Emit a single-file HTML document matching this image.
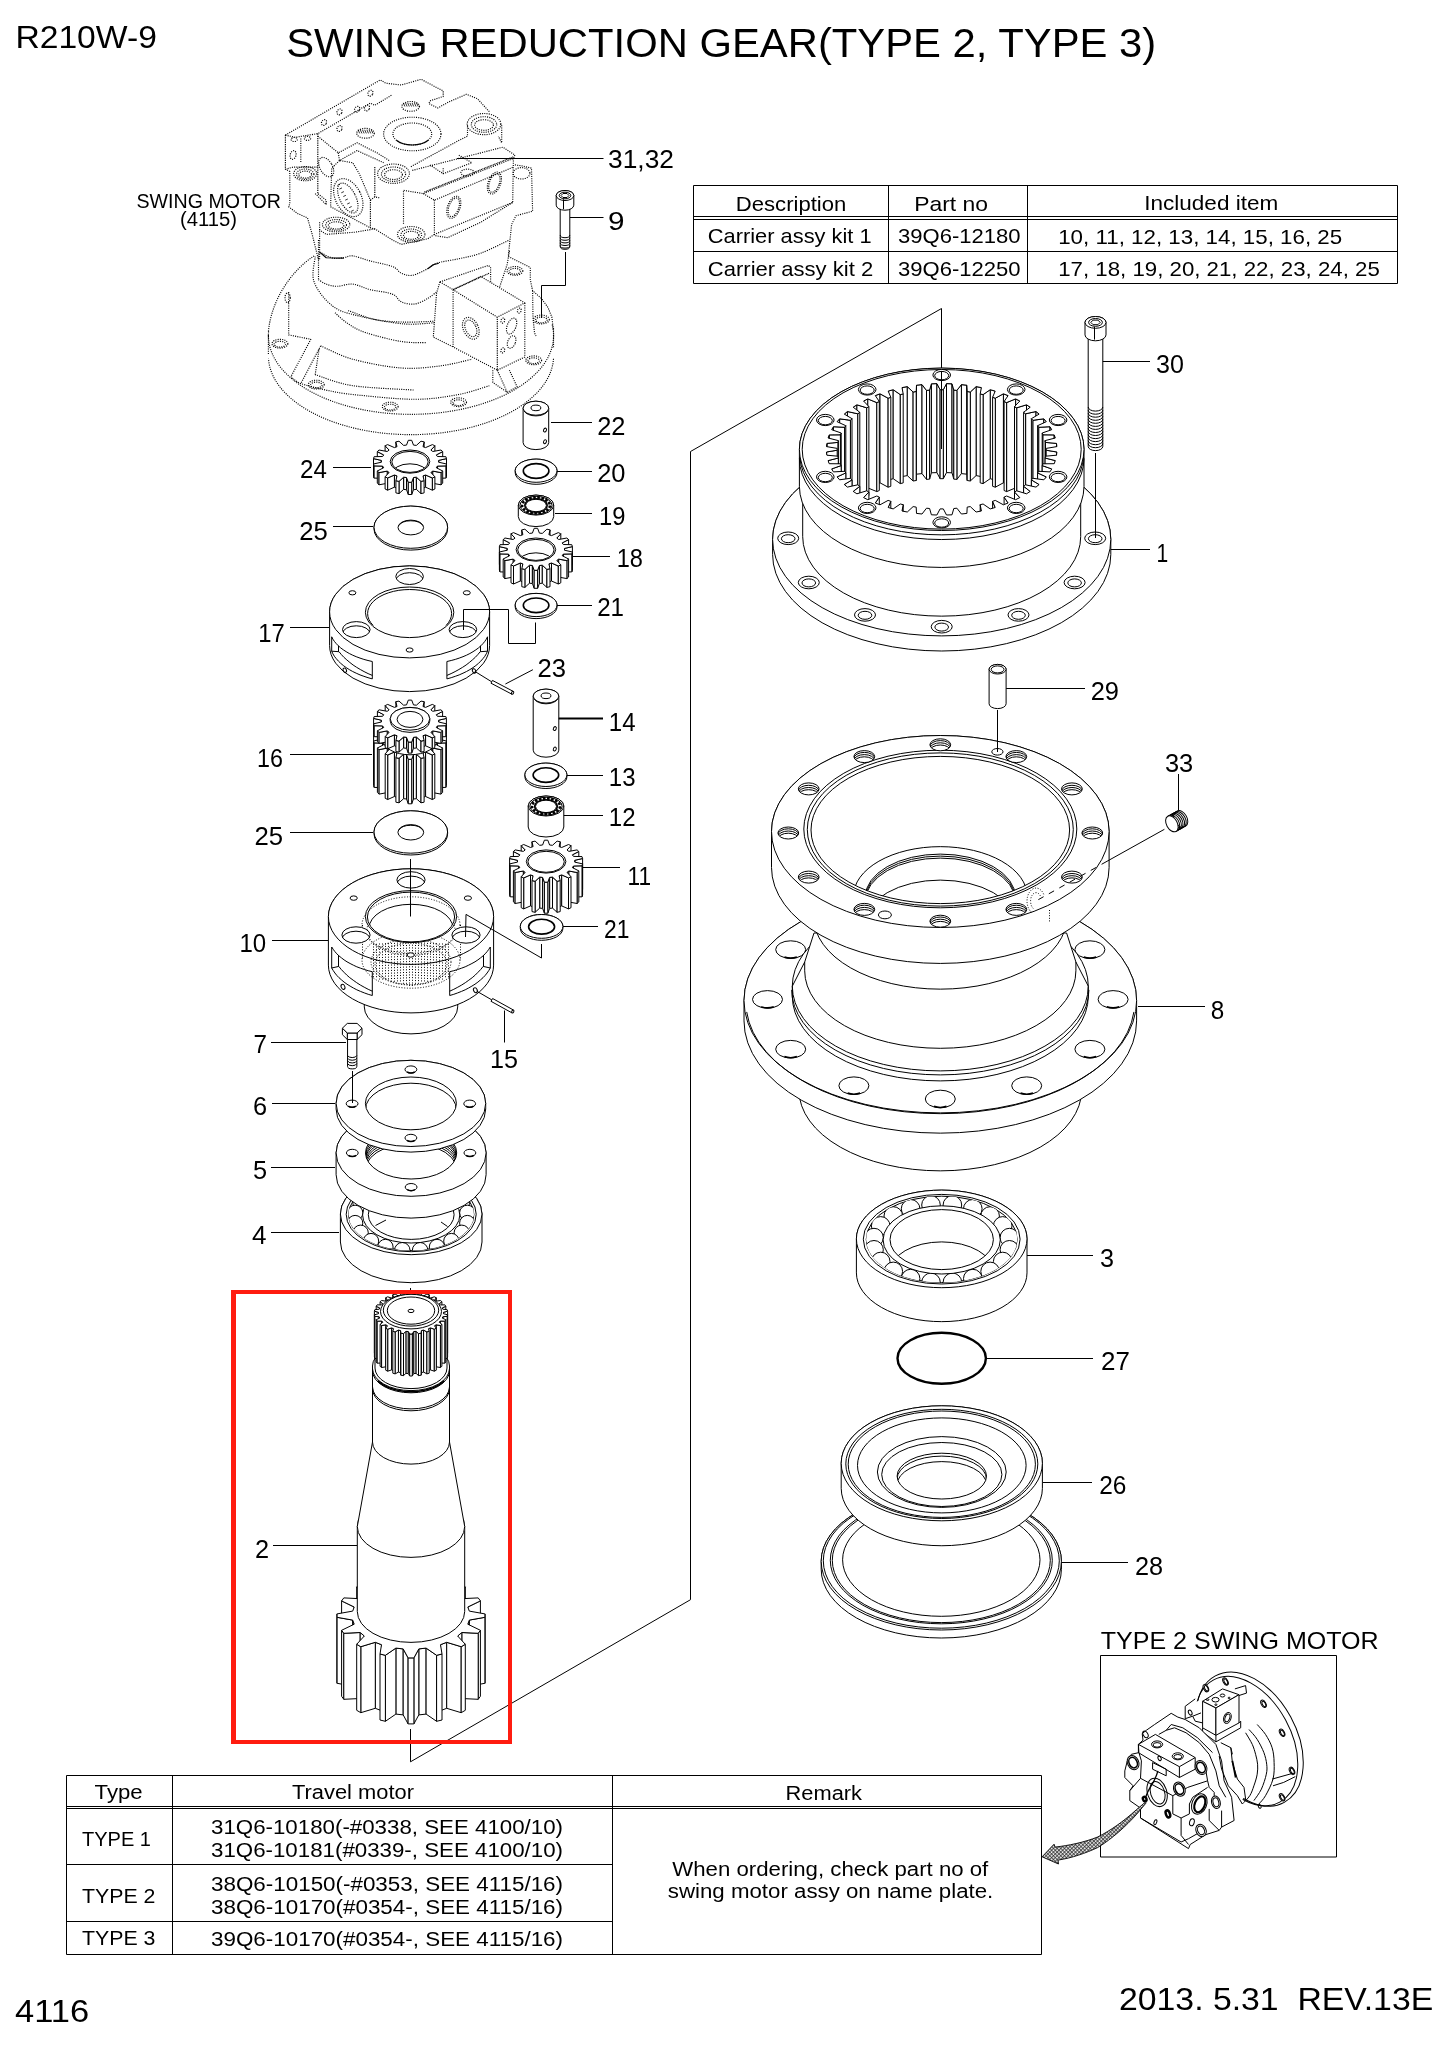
<!DOCTYPE html>
<html><head><meta charset="utf-8"><title>SWING REDUCTION GEAR</title>
<style>
html,body{margin:0;padding:0;background:#fff;}
body{width:1450px;height:2045px;overflow:hidden;font-family:"Liberation Sans",sans-serif;}
svg{display:block;}
svg text{font-family:"Liberation Sans",sans-serif;fill:#000;stroke:none;}
svg g.tx{filter:grayscale(1);}
</style></head><body>
<svg width="1450" height="2045" viewBox="0 0 1450 2045" fill="none" stroke="#000" stroke-width="1" stroke-linecap="butt" stroke-linejoin="round">
<rect x="0" y="0" width="1450" height="2045" fill="#fff" stroke="none"/>
<g id="toptable">
<path d="M693.5 185.5L1397.5 185.5L1397.5 283.5L693.5 283.5Z" stroke-width="1" />
<path d="M693.7 216.5L1397.7 216.5" stroke-width="1" />
<path d="M693.7 219.5L1397.7 219.5" stroke-width="1" />
<path d="M693.7 251.5L1397.7 251.5" stroke-width="1" />
<path d="M888.5 185.0L888.5 283.7" stroke-width="1" />
<path d="M1027.5 185.0L1027.5 283.7" stroke-width="1" />
</g>
<g id="bottable">
<path d="M66.5 1775.5L1041.5 1775.5L1041.5 1954.5L66.5 1954.5Z" stroke-width="1" />
<path d="M66.0 1806.5L1041.8 1806.5" stroke-width="1" />
<path d="M66.0 1808.5L1041.8 1808.5" stroke-width="1" />
<path d="M66.0 1864.5L612.5 1864.5" stroke-width="1" />
<path d="M66.0 1921.5L612.5 1921.5" stroke-width="1" />
<path d="M172.5 1775.2L172.5 1954.8" stroke-width="1" />
<path d="M612.5 1775.2L612.5 1954.8" stroke-width="1" />
</g>
<path d="M457.0 158.5L603.5 158.5" stroke-width="1" />
<path d="M570.0 217.5L603.5 217.5" stroke-width="1" />
<path d="M551.0 422.5L592.0 422.5" stroke-width="1" />
<path d="M557.0 471.5L592.0 471.5" stroke-width="1" />
<path d="M555.0 513.5L592.0 513.5" stroke-width="1" />
<path d="M572.0 556.5L610.0 556.5" stroke-width="1" />
<path d="M557.0 605.5L592.0 605.5" stroke-width="1" />
<path d="M333.0 467.5L371.0 467.5" stroke-width="1" />
<path d="M333.0 526.5L373.0 526.5" stroke-width="1" />
<path d="M290.0 627.5L329.0 627.5" stroke-width="1" />
<path d="M558.0 718.5L603.0 718.5" stroke-width="1" />
<path d="M566.0 775.5L603.0 775.5" stroke-width="1" />
<path d="M563.0 815.5L603.0 815.5" stroke-width="1" />
<path d="M582.0 867.5L620.0 867.5" stroke-width="1" />
<path d="M563.0 926.5L598.0 926.5" stroke-width="1" />
<path d="M290.0 754.5L372.0 754.5" stroke-width="1" />
<path d="M290.0 832.5L373.0 832.5" stroke-width="1" />
<path d="M272.0 940.5L328.0 940.5" stroke-width="1" />
<path d="M271.0 1042.5L346.0 1042.5" stroke-width="1" />
<path d="M272.0 1103.5L335.0 1103.5" stroke-width="1" />
<path d="M271.0 1167.5L335.0 1167.5" stroke-width="1" />
<path d="M271.0 1232.5L339.0 1232.5" stroke-width="1" />
<path d="M273.0 1545.5L357.0 1545.5" stroke-width="1" />
<path d="M1101.0 361.5L1150.0 361.5" stroke-width="1" />
<path d="M1110.0 549.5L1150.0 549.5" stroke-width="1" />
<path d="M1004.0 688.5L1085.0 688.5" stroke-width="1" />
<path d="M1138.0 1006.5L1205.0 1006.5" stroke-width="1" />
<path d="M1027.0 1255.5L1093.0 1255.5" stroke-width="1" />
<path d="M987.0 1358.5L1093.0 1358.5" stroke-width="1" />
<path d="M1043.0 1482.5L1092.0 1482.5" stroke-width="1" />
<path d="M1062.0 1562.5L1128.0 1562.5" stroke-width="1" />
<g stroke-dasharray="1.05 1.2" stroke-width="1.15">
<path d="M285.4 135.1L380.3 79.9L385.8 83.2L401.2 85.0L421.1 79.3L443.2 91.0L443.2 96.5L429.9 100.9L428.8 103.5L437.7 108.0L448.7 102.0L466.4 94.3L477.4 98.7L489.5 111.9" />
<path d="M285.4 135.1L285.4 169.3L289.8 171.5L289.8 203.5L288.7 206.8L297.5 213.5L307.5 217.9L311.9 233.3L318.5 259.8" />
<path d="M285.4 135.1L295.3 137.3L317.8 133.6L370.4 103.1L374.8 105.3L392.4 94.7" />
<path d="M317.8 133.6L317.8 193.6" />
<path d="M300.8 138.4L300.8 162.7" />
<path d="M285.4 169.3L293.1 167.1L317.8 167.1" />
<path d="M317.8 136.2L338.3 152.8L357.1 142.8L377.0 152.8L389.1 160.5" />
<path d="M338.3 152.8L339.5 160.5L357.1 150.6L383.6 162.7" />
<path d="M339.5 160.5L331.7 168.2L330.6 206.8L370.4 227.8L370.4 200.2L359.3 173.7L352.7 162.7L339.5 160.5" />
<path d="M370.4 200.2L374.8 196.9L380.3 198.0" />
<path d="M374.8 167.1L374.8 196.9" />
<path d="M319.6 222.3L319.6 259.8" />
<path d="M315.2 193.6L326.2 204.6L326.2 200.2L317.8 193.6" />
<ellipse cx="294.2" cy="139.5" rx="3.1" ry="2.0" fill="none" transform="rotate(0 294.2 139.5)" />
<ellipse cx="307.5" cy="138.4" rx="3.1" ry="2.0" fill="none" transform="rotate(0 307.5 138.4)" />
<ellipse cx="324.0" cy="122.5" rx="2.4" ry="3.1" fill="none" transform="rotate(30 324.0 122.5)" />
<ellipse cx="339.5" cy="111.9" rx="2.4" ry="3.1" fill="none" transform="rotate(30 339.5 111.9)" />
<ellipse cx="357.1" cy="109.3" rx="2.4" ry="3.1" fill="none" transform="rotate(30 357.1 109.3)" />
<ellipse cx="367.0" cy="108.0" rx="2.4" ry="3.1" fill="none" transform="rotate(30 367.0 108.0)" />
<ellipse cx="370.4" cy="93.2" rx="2.4" ry="3.1" fill="none" transform="rotate(30 370.4 93.2)" />
<ellipse cx="339.5" cy="128.5" rx="2.4" ry="3.1" fill="none" transform="rotate(30 339.5 128.5)" />
<ellipse cx="293.1" cy="155.0" rx="2.9" ry="4.4" fill="none" transform="rotate(15 293.1 155.0)" />
<ellipse cx="305.2" cy="173.7" rx="11.5" ry="7.1" fill="none" transform="rotate(0 305.2 173.7)" />
<ellipse cx="305.2" cy="174.2" rx="8.7" ry="5.2" fill="none" transform="rotate(0 305.2 174.2)" />
<ellipse cx="305.2" cy="174.6" rx="6.4" ry="3.5" fill="none" transform="rotate(0 305.2 174.6)" />
<ellipse cx="393.5" cy="173.7" rx="15.9" ry="9.7" fill="none" transform="rotate(0 393.5 173.7)" />
<ellipse cx="393.5" cy="174.2" rx="12.1" ry="7.2" fill="none" transform="rotate(0 393.5 174.2)" />
<ellipse cx="393.5" cy="174.6" rx="8.9" ry="4.9" fill="none" transform="rotate(0 393.5 174.6)" />
<ellipse cx="484.0" cy="124.1" rx="16.8" ry="10.6" fill="none" transform="rotate(0 484.0 124.1)" />
<ellipse cx="484.0" cy="124.5" rx="12.7" ry="7.8" fill="none" transform="rotate(0 484.0 124.5)" />
<ellipse cx="484.0" cy="125.0" rx="9.4" ry="5.3" fill="none" transform="rotate(0 484.0 125.0)" />
<ellipse cx="336.1" cy="224.5" rx="13.7" ry="7.3" fill="none" transform="rotate(0 336.1 224.5)" />
<ellipse cx="336.1" cy="224.9" rx="10.4" ry="5.4" fill="none" transform="rotate(0 336.1 224.9)" />
<ellipse cx="336.1" cy="225.4" rx="7.7" ry="3.6" fill="none" transform="rotate(0 336.1 225.4)" />
<ellipse cx="411.2" cy="234.4" rx="13.7" ry="7.9" fill="none" transform="rotate(0 411.2 234.4)" />
<ellipse cx="411.2" cy="234.9" rx="10.4" ry="5.9" fill="none" transform="rotate(0 411.2 234.9)" />
<ellipse cx="411.2" cy="235.3" rx="7.7" ry="4.0" fill="none" transform="rotate(0 411.2 235.3)" />
<path d="M501.7 125.2L501.7 142.8L498.4 136.2" />
<path d="M467.5 125.2L467.5 136.2L458.6 140.6L410.1 167.1" />
<ellipse cx="412.3" cy="134.0" rx="28.7" ry="16.8" fill="none" transform="rotate(0 412.3 134.0)" />
<ellipse cx="412.3" cy="134.0" rx="19.4" ry="11.0" fill="none" transform="rotate(0 412.3 134.0)" />
<path d="M428.2 140.3A19.4 11.0 0 0 1 396.4 140.3" stroke-dasharray="none"/>
<ellipse cx="410.7" cy="106.4" rx="8.8" ry="4.9" fill="none" transform="rotate(0 410.7 106.4)" />
<path d="M403.3 102.9L404.9 106.5" stroke-width="0.8" stroke-dasharray="none"/>
<path d="M405.5 102.9L407.1 106.5" stroke-width="0.8" stroke-dasharray="none"/>
<path d="M407.7 102.9L409.3 106.5" stroke-width="0.8" stroke-dasharray="none"/>
<path d="M409.9 102.9L411.5 106.5" stroke-width="0.8" stroke-dasharray="none"/>
<path d="M412.1 102.9L413.7 106.5" stroke-width="0.8" stroke-dasharray="none"/>
<path d="M414.4 102.9L416.0 106.5" stroke-width="0.8" stroke-dasharray="none"/>
<path d="M416.6 102.9L418.2 106.5" stroke-width="0.8" stroke-dasharray="none"/>
<ellipse cx="365.5" cy="133.3" rx="8.8" ry="4.9" fill="none" transform="rotate(0 365.5 133.3)" />
<path d="M358.1 129.8L359.7 133.4" stroke-width="0.8" stroke-dasharray="none"/>
<path d="M360.3 129.8L361.9 133.4" stroke-width="0.8" stroke-dasharray="none"/>
<path d="M362.5 129.8L364.1 133.4" stroke-width="0.8" stroke-dasharray="none"/>
<path d="M364.7 129.8L366.3 133.4" stroke-width="0.8" stroke-dasharray="none"/>
<path d="M366.9 129.8L368.5 133.4" stroke-width="0.8" stroke-dasharray="none"/>
<path d="M369.1 129.8L370.7 133.4" stroke-width="0.8" stroke-dasharray="none"/>
<path d="M371.3 129.8L372.9 133.4" stroke-width="0.8" stroke-dasharray="none"/>
<ellipse cx="348.3" cy="197.6" rx="12.8" ry="20.3" fill="none" transform="rotate(-27 348.3 197.6)" />
<ellipse cx="347.8" cy="198.0" rx="7.9" ry="16.3" fill="none" transform="rotate(-27 347.8 198.0)" />
<path d="M337.4 185.4L340.0 184.2" stroke-width="0.8" stroke-dasharray="none"/>
<path d="M339.4 189.1L342.0 187.9" stroke-width="0.8" stroke-dasharray="none"/>
<path d="M341.3 192.8L343.9 191.6" stroke-width="0.8" stroke-dasharray="none"/>
<path d="M343.3 196.5L345.9 195.3" stroke-width="0.8" stroke-dasharray="none"/>
<path d="M345.2 200.2L347.8 199.0" stroke-width="0.8" stroke-dasharray="none"/>
<path d="M347.2 204.0L349.8 202.8" stroke-width="0.8" stroke-dasharray="none"/>
<path d="M349.1 207.7L351.7 206.5" stroke-width="0.8" stroke-dasharray="none"/>
<path d="M351.1 211.4L353.7 210.2" stroke-width="0.8" stroke-dasharray="none"/>
<ellipse cx="326.2" cy="167.1" rx="6.2" ry="10.6" fill="none" transform="rotate(-30 326.2 167.1)" />
<path d="M412.3 170.4L502.8 147.2L514.9 155.0L513.8 158.3L423.3 193.6L403.5 190.3L403.5 224.5" />
<path d="M423.3 193.6L434.4 200.2L513.4 167.1" />
<path d="M424.4 192.0L513.8 156.7" stroke-dasharray="1 0.6"/>
<path d="M434.4 200.2L434.4 234.4L512.7 202.4L513.4 158.3" />
<path d="M429.9 164.9L443.2 173.7L471.9 162.7L458.6 155.0" />
<path d="M443.2 173.7L443.2 167.1" />
<ellipse cx="467.5" cy="172.6" rx="6.6" ry="3.5" fill="none" transform="rotate(0 467.5 172.6)" />
<ellipse cx="453.8" cy="207.3" rx="6.2" ry="11.5" fill="none" transform="rotate(20 453.8 207.3)" />
<ellipse cx="453.8" cy="207.3" rx="4.9" ry="9.7" fill="none" transform="rotate(20 453.8 207.3)" />
<ellipse cx="494.4" cy="183.0" rx="6.2" ry="11.5" fill="none" transform="rotate(20 494.4 183.0)" />
<ellipse cx="494.4" cy="183.0" rx="4.9" ry="9.7" fill="none" transform="rotate(20 494.4 183.0)" />
<path d="M514.9 164.9L522.6 166.0L531.5 168.2L532.6 211.2L516.0 215.7L511.6 224.5L508.3 256.5" />
<ellipse cx="521.5" cy="173.3" rx="8.4" ry="5.7" fill="none" transform="rotate(0 521.5 173.3)" />
<path d="M434.4 234.4L427.7 238.8L401.2 244.4L392.4 239.9L374.8 228.9L370.4 227.8" />
<path d="M374.8 228.9L354.9 232.2L326.2 234.4L319.6 230.0" />
<path d="M512.7 202.4L480.7 222.3L447.6 237.7L434.4 235.5" />
<path d="M552.2 324.5A142.6 78.8 0 1 1 268.6 331.4" />
<path d="M553.5 358.8A142.6 78.8 0 0 1 268.5 358.8" />
<path d="M268.4 334.9L268.4 354.8" />
<path d="M553.5 328.3L553.5 348.1" />
<path d="M314.1 255.9C292 270 271 300 268.4 332" />
<path d="M508.3 256.5L530.3 267.5L530.3 279.7L532.6 290.7L541.4 298.4L548.0 307.5L551.9 317.2L553.4 330.0" />
<ellipse cx="279.9" cy="343.7" rx="7.9" ry="4.4" fill="none" transform="rotate(0 279.9 343.7)" />
<ellipse cx="279.9" cy="344.2" rx="5.7" ry="2.9" fill="none" transform="rotate(0 279.9 344.2)" />
<ellipse cx="316.3" cy="384.6" rx="7.9" ry="4.4" fill="none" transform="rotate(0 316.3 384.6)" />
<ellipse cx="316.3" cy="385.0" rx="5.7" ry="2.9" fill="none" transform="rotate(0 316.3 385.0)" />
<ellipse cx="390.2" cy="406.6" rx="7.9" ry="4.4" fill="none" transform="rotate(0 390.2 406.6)" />
<ellipse cx="390.2" cy="407.1" rx="5.7" ry="2.9" fill="none" transform="rotate(0 390.2 407.1)" />
<ellipse cx="458.6" cy="402.2" rx="7.9" ry="4.4" fill="none" transform="rotate(0 458.6 402.2)" />
<ellipse cx="458.6" cy="402.7" rx="5.7" ry="2.9" fill="none" transform="rotate(0 458.6 402.7)" />
<ellipse cx="533.7" cy="360.3" rx="7.9" ry="4.4" fill="none" transform="rotate(0 533.7 360.3)" />
<ellipse cx="533.7" cy="360.7" rx="5.7" ry="2.9" fill="none" transform="rotate(0 533.7 360.7)" />
<ellipse cx="541.4" cy="319.5" rx="7.9" ry="4.4" fill="none" transform="rotate(0 541.4 319.5)" />
<ellipse cx="541.4" cy="319.9" rx="5.7" ry="2.9" fill="none" transform="rotate(0 541.4 319.9)" />
<ellipse cx="514.9" cy="270.9" rx="7.9" ry="4.4" fill="none" transform="rotate(0 514.9 270.9)" />
<ellipse cx="514.9" cy="271.3" rx="5.7" ry="2.9" fill="none" transform="rotate(0 514.9 271.3)" />
<ellipse cx="287.6" cy="297.8" rx="2.6" ry="4.9" fill="none" transform="rotate(0 287.6 297.8)" />
<path d="M318.5 240.0L318.5 279.7" />
<path d="M318.5 279.7C319.8 280.5 323.1 283.0 326.2 284.1C329.3 285.2 332.8 286.3 337.2 286.3C341.7 286.3 347.2 283.6 352.7 284.1C358.2 284.7 363.7 288.0 370.4 289.7C377.0 291.3 387.3 292.0 392.4 294.1C397.6 296.1 397.6 300.1 401.2 301.8C404.9 303.5 410.1 304.6 414.5 304.0C418.9 303.5 424.1 300.5 427.7 298.5C431.4 296.5 435.1 293.0 436.6 291.9" />
<path d="M319.6 252.1C321.8 253.1 328.8 257.2 332.8 258.1C336.9 259.0 340.6 258.0 343.9 257.7C347.2 257.3 348.3 255.3 352.7 255.9C357.1 256.4 363.7 259.2 370.4 261.0C377.0 262.7 387.3 264.5 392.4 266.5C397.6 268.5 397.9 271.6 401.2 273.1C404.6 274.6 407.9 276.0 412.3 275.3C416.7 274.6 423.7 270.7 427.7 268.7C431.8 266.7 431.4 264.8 436.6 263.2C441.7 261.5 451.3 260.4 458.6 258.8C466.0 257.1 472.2 256.4 480.7 253.2C489.2 250.1 504.6 242.2 509.4 240.0" />
<path d="M319.6 252.1L326.2 257.7L343.9 258.1" stroke-dasharray="none"/>
<path d="M427.7 268.7L433.3 264.7L438.8 263.2" stroke-dasharray="none"/>
<path d="M315.2 256.6C315.0 260.8 311.1 273.7 314.1 281.9C317.0 290.2 325.3 300.5 332.8 306.2C340.4 311.9 347.5 313.2 359.3 316.1C371.1 319.1 390.9 322.8 403.5 323.9C416.0 325.0 429.2 322.9 434.4 322.8" />
<path d="M348.3 310.6C352.7 312.1 365.6 317.5 374.8 319.5C384.0 321.4 393.5 321.8 403.5 322.1C413.4 322.4 429.2 321.4 434.4 321.2" />
<path d="M335.0 312.8C337.2 314.7 343.1 320.6 348.3 323.9C353.4 327.2 357.1 329.8 365.9 332.7C374.8 335.6 391.1 339.9 401.2 341.5C411.4 343.2 422.4 342.4 426.6 342.6" />
<path d="M320.7 345.9C326.0 348.1 339.3 355.5 352.7 359.2C366.1 362.9 386.5 366.9 401.2 368.0C416.0 369.1 429.2 367.3 441.0 365.8C452.7 364.3 466.7 360.3 471.9 359.2" />
<path d="M320.7 345.9L300.8 383.5" />
<path d="M319.1 349.2L315.2 374.6" />
<path d="M288.7 291.9L288.7 334.9L310.8 339.3L290.9 376.8" />
<path d="M290.9 376.8C292.6 377.9 294.9 381.2 300.8 383.5C306.7 385.7 317.6 388.2 326.2 390.1C334.9 391.9 338.0 392.9 352.7 394.5C367.4 396.0 396.8 399.3 414.5 399.3C432.1 399.3 446.1 396.8 458.6 394.5C471.1 392.2 484.4 387.1 489.5 385.7" />
<path d="M315.2 374.6C321.4 376.5 336.1 383.1 352.7 385.7C369.2 388.2 404.2 389.3 414.5 390.1" />
<path d="M439.9 281.9L488.4 265.4L490.6 267.6L490.6 283.0" />
<path d="M439.9 281.9L453.1 289.7L480.7 276.4L524.8 302.9L497.3 317.2L453.1 289.7" />
<path d="M453.1 289.7L453.1 347.0L497.3 370.2L497.3 317.2" />
<path d="M524.8 302.9L524.8 357.0L497.3 370.2" />
<path d="M439.9 281.9L436.6 293.0L433.3 337.1L453.1 347.0" />
<path d="M453.1 289.7L489.5 273.1" stroke-dasharray="1 0.6"/>
<ellipse cx="470.8" cy="328.3" rx="7.5" ry="11.5" fill="none" transform="rotate(-25 470.8 328.3)" />
<ellipse cx="470.8" cy="328.3" rx="5.3" ry="8.8" fill="none" transform="rotate(-25 470.8 328.3)" />
<ellipse cx="511.6" cy="326.1" rx="4.4" ry="8.4" fill="none" transform="rotate(22 511.6 326.1)" />
<ellipse cx="511.6" cy="342.0" rx="3.8" ry="6.6" fill="none" transform="rotate(22 511.6 342.0)" />
<ellipse cx="502.8" cy="320.6" rx="1.8" ry="2.6" fill="none" transform="rotate(20 502.8 320.6)" />
<ellipse cx="519.3" cy="310.6" rx="1.8" ry="2.6" fill="none" transform="rotate(20 519.3 310.6)" />
<ellipse cx="502.8" cy="350.4" rx="1.8" ry="2.6" fill="none" transform="rotate(20 502.8 350.4)" />
<path d="M492.8 370.2L492.8 382.4L507.2 392.3L517.1 386.8L509.4 370.2" />
<path d="M497.3 370.2L507.2 392.3" />
<path d="M509.4 251.0L507.2 264.3L499.5 287.5" />
<path d="M532.6 290.7L533.0 318.0L534.5 333.0L536.0 336.0" />
</g>
<path d="M565.5 252.0L565.5 285.5L541.5 285.5L541.5 318.0" />
<path d="M560.2 205.2L560.2 246.6A4.8 2.7 0 0 0 569.8 246.6L569.8 205.2Z" fill="#fff" />
<path d="M569.8 235.0A4.8 2.7 0 0 1 560.2 235.0" />
<path d="M569.8 237.6A4.8 2.7 0 0 1 560.2 237.6" />
<path d="M569.8 240.2A4.8 2.7 0 0 1 560.2 240.2" />
<path d="M569.8 242.8A4.8 2.7 0 0 1 560.2 242.8" />
<path d="M569.8 245.4A4.8 2.7 0 0 1 560.2 245.4" />
<path d="M556.2 195.5L556.2 205.2A8.8 5.0 0 0 0 573.8 205.2L573.8 195.5A8.8 5.0 0 0 0 556.2 195.5Z" fill="#fff" />
<ellipse cx="565.0" cy="195.5" rx="8.8" ry="5.0" fill="#fff" />
<ellipse cx="565.0" cy="195.5" rx="5.8" ry="3.3" />
<path d="M569.0 195.5L567.0 197.5L563.0 197.5L561.0 195.5L563.0 193.5L567.0 193.5Z" />
<path d="M563.5 199.3L563.5 209.2" />
<rect x="1100.5" y="1655.5" width="236" height="201.5" fill="none"/>
<g stroke-width="1">
<clipPath id="c1"><path d="M1192.7 1703.0L1186.1 1655.0L1336.7 1655.0L1336.7 1858.6L1237.4 1858.6L1237.4 1808.1L1244.0 1797.3L1249.0 1770.9L1242.3 1741.1L1225.8 1727.8L1240.7 1721.2L1240.7 1694.7L1222.5 1688.1L1205.9 1698.0Z"/></clipPath><g clip-path="url(#c1)">
<ellipse cx="1249.8" cy="1739.1" rx="72.0" ry="46.5" fill="none" stroke-width="1" transform="rotate(61.4 1249.8 1739.1)"/>
<ellipse cx="1246.5" cy="1741.1" rx="69.5" ry="44.4" fill="none" stroke-width="1" transform="rotate(61.4 1246.5 1741.1)"/>
</g>
<path d="M1257.2 1724.5C1258.6 1726.2 1263.0 1730.6 1265.5 1734.4C1268.0 1738.3 1270.7 1743.0 1272.1 1747.7C1273.6 1752.4 1274.0 1757.3 1274.1 1762.6C1274.3 1767.8 1274.4 1773.6 1273.0 1779.1C1271.5 1784.6 1267.9 1791.5 1265.5 1795.7C1263.2 1799.8 1260.0 1802.6 1258.9 1804.0" />
<path d="M1249.0 1729.5C1250.3 1731.1 1254.8 1735.5 1257.2 1739.4C1259.7 1743.3 1262.3 1748.5 1263.9 1752.6C1265.4 1756.8 1266.3 1760.6 1266.7 1764.2C1267.1 1767.8 1267.2 1770.0 1266.3 1774.2C1265.5 1778.3 1263.4 1784.6 1261.4 1789.1C1259.3 1793.5 1255.2 1798.7 1253.9 1800.6" />
<path d="M1245.6 1732.8C1246.8 1734.7 1250.6 1740.8 1252.3 1744.4C1253.9 1748.0 1254.7 1751.0 1255.6 1754.3C1256.5 1757.6 1257.3 1760.9 1257.6 1764.2C1257.8 1767.5 1257.8 1770.6 1257.2 1774.2C1256.6 1777.8 1255.2 1782.2 1253.9 1785.8C1252.7 1789.3 1251.7 1792.6 1249.8 1795.7C1247.9 1798.7 1243.6 1802.6 1242.3 1804.0" />
<ellipse cx="1205.9" cy="1688.1" rx="2.3" ry="4.0" fill="#fff" stroke-width="1" transform="rotate(-28 1205.9 1688.1)"/>
<ellipse cx="1206.3" cy="1688.3" rx="1.5" ry="3.0" fill="none" stroke-width="1" transform="rotate(-28 1206.3 1688.3)"/>
<ellipse cx="1225.5" cy="1681.5" rx="2.3" ry="4.0" fill="#fff" stroke-width="1" transform="rotate(-28 1225.5 1681.5)"/>
<ellipse cx="1225.8" cy="1681.6" rx="1.5" ry="3.0" fill="none" stroke-width="1" transform="rotate(-28 1225.8 1681.6)"/>
<ellipse cx="1263.5" cy="1703.8" rx="2.3" ry="4.0" fill="#fff" stroke-width="1" transform="rotate(-28 1263.5 1703.8)"/>
<ellipse cx="1263.9" cy="1704.0" rx="1.5" ry="3.0" fill="none" stroke-width="1" transform="rotate(-28 1263.9 1704.0)"/>
<ellipse cx="1282.1" cy="1732.8" rx="2.3" ry="4.0" fill="#fff" stroke-width="1" transform="rotate(-28 1282.1 1732.8)"/>
<ellipse cx="1282.4" cy="1733.0" rx="1.5" ry="3.0" fill="none" stroke-width="1" transform="rotate(-28 1282.4 1733.0)"/>
<ellipse cx="1292.0" cy="1770.9" rx="2.3" ry="4.0" fill="#fff" stroke-width="1" transform="rotate(-28 1292.0 1770.9)"/>
<ellipse cx="1292.3" cy="1771.0" rx="1.5" ry="3.0" fill="none" stroke-width="1" transform="rotate(-28 1292.3 1771.0)"/>
<ellipse cx="1282.1" cy="1797.3" rx="2.3" ry="4.0" fill="#fff" stroke-width="1" transform="rotate(-28 1282.1 1797.3)"/>
<ellipse cx="1282.4" cy="1797.5" rx="1.5" ry="3.0" fill="none" stroke-width="1" transform="rotate(-28 1282.4 1797.5)"/>
<ellipse cx="1259.7" cy="1806.4" rx="1.3" ry="2.0" fill="none" stroke-width="1" transform="rotate(-28 1259.7 1806.4)"/>
<path d="M1272.1 1779.1L1292.8 1773.3" />
<path d="M1273.0 1785.8L1283.7 1782.4L1295.3 1776.6" />
<path d="M1245.6 1685.6L1246.5 1693.1L1239.0 1695.5" />
<path d="M1234.9 1688.9L1245.6 1685.6" />
<path d="M1202.6 1701.3L1222.5 1688.9L1239.0 1694.7L1215.9 1708.0Z" fill="#fff" />
<path d="M1202.6 1701.3L1202.6 1727.8L1215.9 1735.3L1215.9 1708.0Z" fill="#fff" />
<path d="M1215.9 1708.0L1239.0 1694.7L1239.0 1722.9L1215.9 1735.3Z" fill="#fff" />
<path d="M1202.6 1727.8L1202.6 1732.0L1215.9 1741.9L1240.7 1727.8L1240.7 1721.2L1239.0 1722.9" />
<path d="M1215.9 1735.3L1215.9 1741.9" />
<ellipse cx="1227.4" cy="1717.9" rx="3.6" ry="5.6" fill="none" stroke-width="1" transform="rotate(20 1227.4 1717.9)"/>
<ellipse cx="1227.4" cy="1717.9" rx="2.3" ry="4.0" fill="none" stroke-width="1" transform="rotate(20 1227.4 1717.9)"/>
<ellipse cx="1215.5" cy="1699.7" rx="3.6" ry="2.3" fill="none" stroke-width="1" transform="rotate(0 1215.5 1699.7)"/>
<ellipse cx="1222.5" cy="1695.5" rx="2.3" ry="1.5" fill="none" stroke-width="1" transform="rotate(0 1222.5 1695.5)"/>
<ellipse cx="1215.9" cy="1704.7" rx="1.0" ry="0.8" fill="none" stroke-width="1" transform="rotate(0 1215.9 1704.7)"/>
<ellipse cx="1229.1" cy="1698.0" rx="1.0" ry="0.8" fill="none" stroke-width="1" transform="rotate(0 1229.1 1698.0)"/>
<ellipse cx="1207.6" cy="1699.7" rx="1.3" ry="0.8" fill="none" stroke-width="1" transform="rotate(0 1207.6 1699.7)"/>
<path d="M1195.2 1698.9L1185.2 1706.3L1185.2 1718.7L1192.7 1716.2L1201.0 1712.9" />
<ellipse cx="1190.2" cy="1712.6" rx="1.7" ry="2.6" fill="none" stroke-width="1" transform="rotate(-25 1190.2 1712.6)"/>
<path d="M1192.7 1716.2L1195.2 1721.2L1202.6 1722.9" />
<path d="M1171.2 1713.3L1177.8 1717.1L1185.2 1719.5L1199.3 1727.8L1215.9 1744.4L1221.6 1760.9L1224.1 1780.8L1231.6 1797.3L1234.1 1820.5L1221.6 1827.1L1219.2 1830.4L1205.9 1834.6L1190.2 1844.5L1188.5 1848.6L1140.5 1818.0L1140.5 1808.1L1129.8 1800.6L1129.8 1790.7L1133.1 1785.8L1124.8 1777.5L1124.8 1770.9L1127.3 1760.9L1131.4 1754.3L1138.9 1752.6L1138.4 1744.4L1143.0 1740.2L1142.2 1733.6L1146.3 1730.3L1154.6 1724.5L1171.2 1713.3" fill="#fff" />
<path d="M1158.8 1734.4L1166.2 1730.3L1174.5 1727.8L1186.1 1732.8L1199.3 1742.7L1209.2 1754.3L1215.9 1770.9L1219.2 1785.8L1225.8 1797.3" />
<path d="M1166.2 1730.3L1171.2 1724.5L1182.8 1727.8L1197.6 1737.8L1212.5 1752.6" />
<path d="M1219.2 1756.0L1221.6 1769.2L1228.3 1785.8L1237.4 1795.7L1242.3 1804.0" />
<path d="M1230.8 1747.7L1232.4 1762.6L1237.4 1779.1L1244.0 1787.4L1245.6 1799.0" />
<path d="M1232.4 1760.9L1235.7 1777.5" stroke-width="1.8" />
<path d="M1220.8 1742.7L1230.8 1747.7L1232.4 1754.3" />
<path d="M1138.4 1744.4L1155.4 1734.4L1195.2 1757.6L1179.4 1766.7Z" fill="#fff" />
<path d="M1138.4 1744.4L1138.4 1752.6L1179.4 1777.5L1179.4 1766.7" />
<path d="M1179.4 1777.5L1195.2 1769.2L1195.2 1757.6" />
<ellipse cx="1157.1" cy="1744.4" rx="5.6" ry="3.5" fill="none" stroke-width="1" transform="rotate(0 1157.1 1744.4)"/>
<ellipse cx="1177.8" cy="1756.3" rx="5.6" ry="3.5" fill="none" stroke-width="1" transform="rotate(0 1177.8 1756.3)"/>
<ellipse cx="1157.1" cy="1744.9" rx="4.0" ry="2.3" fill="none" stroke-width="1" transform="rotate(0 1157.1 1744.9)"/>
<ellipse cx="1177.8" cy="1756.8" rx="4.0" ry="2.3" fill="none" stroke-width="1" transform="rotate(0 1177.8 1756.8)"/>
<ellipse cx="1159.6" cy="1758.4" rx="1.5" ry="2.3" fill="none" stroke-width="1" transform="rotate(-25 1159.6 1758.4)"/>
<path d="M1152.6 1762.6L1166.2 1769.2L1166.2 1775.8L1152.6 1769.2Z" />
<path d="M1138.9 1752.6L1141.4 1760.9L1140.5 1778.3L1172.8 1795.7L1172.8 1813.9L1181.1 1818.0L1181.1 1835.4" />
<path d="M1140.5 1778.3L1129.8 1790.7" />
<path d="M1181.1 1835.4L1188.5 1844.5" />
<path d="M1172.8 1795.7L1187.7 1787.4L1207.6 1780.8L1209.2 1787.4L1214.2 1792.4L1214.2 1804.0" />
<path d="M1181.1 1818.0L1189.4 1813.9L1189.4 1804.0L1192.7 1797.3L1207.6 1787.4" />
<path d="M1140.5 1818.0L1181.1 1842.0L1188.5 1838.7L1205.9 1828.8" />
<path d="M1207.6 1780.8L1205.9 1770.9L1195.2 1765.1" />
<path d="M1209.2 1808.9L1209.2 1820.5L1219.2 1830.4" />
<path d="M1221.6 1810.6L1221.6 1827.1" />
<ellipse cx="1157.1" cy="1792.4" rx="9.6" ry="14.6" fill="none" stroke-width="1" transform="rotate(-18 1157.1 1792.4)"/>
<ellipse cx="1157.6" cy="1792.7" rx="7.0" ry="11.6" fill="none" stroke-width="1" transform="rotate(-18 1157.6 1792.7)"/>
<ellipse cx="1133.1" cy="1762.6" rx="5.6" ry="7.3" fill="#fff" stroke-width="1" transform="rotate(-25 1133.1 1762.6)"/>
<ellipse cx="1133.1" cy="1762.6" rx="4.0" ry="5.5" fill="none" stroke-width="1.6" transform="rotate(-25 1133.1 1762.6)"/>
<ellipse cx="1179.4" cy="1789.1" rx="5.6" ry="7.3" fill="#fff" stroke-width="1" transform="rotate(-25 1179.4 1789.1)"/>
<ellipse cx="1179.4" cy="1789.1" rx="4.0" ry="5.5" fill="none" stroke-width="1.6" transform="rotate(-25 1179.4 1789.1)"/>
<ellipse cx="1201.0" cy="1767.5" rx="5.6" ry="7.3" fill="#fff" stroke-width="1" transform="rotate(-25 1201.0 1767.5)"/>
<ellipse cx="1201.0" cy="1767.5" rx="4.0" ry="5.5" fill="none" stroke-width="1.6" transform="rotate(-25 1201.0 1767.5)"/>
<ellipse cx="1215.9" cy="1802.3" rx="4.3" ry="6.3" fill="#fff" stroke-width="1" transform="rotate(-15 1215.9 1802.3)"/>
<ellipse cx="1215.9" cy="1802.3" rx="2.8" ry="4.5" fill="none" stroke-width="1" transform="rotate(-15 1215.9 1802.3)"/>
<ellipse cx="1201.0" cy="1830.4" rx="5.0" ry="6.3" fill="#fff" stroke-width="1" transform="rotate(-25 1201.0 1830.4)"/>
<ellipse cx="1201.0" cy="1830.4" rx="3.3" ry="4.5" fill="none" stroke-width="1" transform="rotate(-25 1201.0 1830.4)"/>
<ellipse cx="1199.3" cy="1804.0" rx="7.3" ry="10.6" fill="#fff" stroke-width="1" transform="rotate(22 1199.3 1804.0)"/>
<ellipse cx="1199.8" cy="1804.3" rx="5.0" ry="8.3" fill="none" stroke-width="2.2" transform="rotate(22 1199.8 1804.3)"/>
<ellipse cx="1167.9" cy="1813.9" rx="2.0" ry="3.6" fill="none" stroke-width="2.5" transform="rotate(-20 1167.9 1813.9)"/>
<ellipse cx="1144.7" cy="1799.0" rx="1.7" ry="2.3" fill="none" stroke-width="2.5" transform="rotate(-20 1144.7 1799.0)"/>
<ellipse cx="1191.9" cy="1822.2" rx="2.3" ry="3.6" fill="none" stroke-width="1" transform="rotate(15 1191.9 1822.2)"/>
<ellipse cx="1155.4" cy="1822.2" rx="1.3" ry="2.6" fill="none" stroke-width="1" transform="rotate(20 1155.4 1822.2)"/>
<ellipse cx="1145.5" cy="1734.4" rx="2.3" ry="3.6" fill="none" stroke-width="1" transform="rotate(-30 1145.5 1734.4)"/>
<path d="M1157.9 1770.9C1154.6 1784.1 1148.0 1787.4 1145.5 1798.2" stroke-width="1.3" />
</g>
<defs><pattern id="hx" width="2.6" height="2.6" patternUnits="userSpaceOnUse" patternTransform="rotate(45)"><rect width="2.6" height="2.6" fill="#fff" stroke="none"/><path d="M0 0.6H2.6M0.6 0V2.6" stroke="#222" stroke-width="0.8" fill="none"/></pattern></defs>
<path d="M1145.9 1801.7L1136.2 1809.9C1124 1821 1110 1831 1097.6 1837C1084 1842.5 1068 1845.6 1055.1 1847.1L1054.1 1844.2L1042.1 1856.8L1058.5 1864L1058 1860.1C1072 1858 1086 1853 1097.6 1847.6C1112 1839 1126 1826 1136.2 1814.8L1145.9 1803.2Z" fill="url(#hx)" stroke-width="0.9" stroke="#000"/>
<g >
<path d="M381.5 1586.5L380.0 1577.2L380.0 1643.2L381.5 1652.5Z" fill="#fff" />
<path d="M442.0 1577.2L440.5 1586.5L440.5 1652.5L442.0 1643.2Z" fill="#fff" />
<path d="M364.3 1595.2L356.7 1586.9L356.7 1652.9L364.3 1661.2Z" fill="#fff" />
<path d="M465.3 1586.9L457.7 1595.2L457.7 1661.2L465.3 1652.9Z" fill="#fff" />
<path d="M354.2 1607.0L341.6 1600.9L341.6 1666.9L354.2 1673.0Z" fill="#fff" />
<path d="M480.4 1600.9L467.8 1607.0L467.8 1673.0L480.4 1666.9Z" fill="#fff" />
<path d="M337.1 1617.3L337.1 1613.9L337.1 1679.9L337.1 1683.3Z" fill="#fff" />
<path d="M484.9 1613.9L484.9 1617.3L484.9 1683.3L484.9 1679.9Z" fill="#fff" />
<path d="M352.7 1620.1L337.1 1617.3L337.1 1683.3L352.7 1686.1Z" fill="#fff" />
<path d="M484.9 1617.3L469.3 1620.1L469.3 1686.1L484.9 1683.3Z" fill="#fff" />
<path d="M469.3 1620.1L467.8 1624.2L467.8 1690.2L469.3 1686.1Z" fill="#fff" />
<path d="M354.2 1624.2L352.7 1620.1L352.7 1686.1L354.2 1690.2Z" fill="#fff" />
<path d="M480.4 1630.3L478.2 1633.3L478.2 1699.3L480.4 1696.3Z" fill="#fff" />
<path d="M343.8 1633.3L341.6 1630.3L341.6 1696.3L343.8 1699.3Z" fill="#fff" />
<path d="M478.2 1633.3L461.8 1632.5L461.8 1698.5L478.2 1699.3Z" fill="#fff" />
<path d="M360.2 1632.5L343.8 1633.3L343.8 1699.3L360.2 1698.5Z" fill="#fff" />
<path d="M461.8 1632.5L457.7 1636.0L457.7 1702.0L461.8 1698.5Z" fill="#fff" />
<path d="M364.3 1636.0L360.2 1632.5L360.2 1698.5L364.3 1702.0Z" fill="#fff" />
<path d="M446.7 1642.3L440.5 1644.7L440.5 1710.7L446.7 1708.3Z" fill="#fff" />
<path d="M381.5 1644.7L375.3 1642.3L375.3 1708.3L381.5 1710.7Z" fill="#fff" />
<path d="M461.2 1646.7L446.7 1642.3L446.7 1708.3L461.2 1712.7Z" fill="#fff" />
<path d="M375.3 1642.3L360.8 1646.7L360.8 1712.7L375.3 1708.3Z" fill="#fff" />
<path d="M465.3 1644.3L461.2 1646.7L461.2 1712.7L465.3 1710.3Z" fill="#fff" />
<path d="M360.8 1646.7L356.7 1644.3L356.7 1710.3L360.8 1712.7Z" fill="#fff" />
<path d="M426.1 1648.1L418.8 1648.9L418.8 1714.9L426.1 1714.1Z" fill="#fff" />
<path d="M403.2 1648.9L395.9 1648.1L395.9 1714.1L403.2 1714.9Z" fill="#fff" />
<path d="M436.6 1655.3L426.1 1648.1L426.1 1714.1L436.6 1721.3Z" fill="#fff" />
<path d="M395.9 1648.1L385.4 1655.3L385.4 1721.3L395.9 1714.1Z" fill="#fff" />
<path d="M418.8 1648.9L413.9 1657.9L413.9 1723.9L418.8 1714.9Z" fill="#fff" />
<path d="M408.1 1657.9L403.2 1648.9L403.2 1714.9L408.1 1723.9Z" fill="#fff" />
<path d="M442.0 1654.0L436.6 1655.3L436.6 1721.3L442.0 1720.0Z" fill="#fff" />
<path d="M385.4 1655.3L380.0 1654.0L380.0 1720.0L385.4 1721.3Z" fill="#fff" />
<path d="M413.9 1657.9L408.1 1657.9L408.1 1723.9L413.9 1723.9Z" fill="#fff" />
<path d="M469.3 1620.1L467.8 1624.2L480.4 1630.3L478.2 1633.3L461.8 1632.5L457.7 1636.0L465.3 1644.3L461.2 1646.7L446.7 1642.3L440.5 1644.7L442.0 1654.0L436.6 1655.3L426.1 1648.1L418.8 1648.9L413.9 1657.9L408.1 1657.9L403.2 1648.9L395.9 1648.1L385.4 1655.3L380.0 1654.0L381.5 1644.7L375.3 1642.3L360.8 1646.7L356.7 1644.3L364.3 1636.0L360.2 1632.5L343.8 1633.3L341.6 1630.3L354.2 1624.2L352.7 1620.1L337.1 1617.3L337.1 1613.9L352.7 1611.1L354.2 1607.0L341.6 1600.9L343.8 1597.9L360.2 1598.7L364.3 1595.2L356.7 1586.9L360.8 1584.5L375.3 1588.9L381.5 1586.5L380.0 1577.2L385.4 1575.9L395.9 1583.1L403.2 1582.3L408.1 1573.3L413.9 1573.3L418.8 1582.3L426.1 1583.1L436.6 1575.9L442.0 1577.2L440.5 1586.5L446.7 1588.9L461.2 1584.5L465.3 1586.9L457.7 1595.2L461.8 1598.7L478.2 1597.9L480.4 1600.9L467.8 1607.0L469.3 1611.1L484.9 1613.9L484.9 1617.3Z" fill="#fff" />
</g>
<path d="M357.3 1526.5L357.3 1611.5A53.7 30.9 0 0 0 464.7 1611.5L464.7 1526.5A53.7 30.9 0 0 0 357.3 1526.5Z" fill="#fff" />
<path d="M372.5 1442L357.3 1526.5A53.7 30.9 0 0 0 464.7 1526.5L449.5 1442Z" fill="#fff" />
<path d="M372.5 1366.0L372.5 1442.0A38.5 22.1 0 0 0 449.5 1442.0L449.5 1366.0A38.5 22.1 0 0 0 372.5 1366.0Z" fill="#fff" />
<path d="M449.5 1368.5A38.5 22.1 0 0 1 372.5 1368.5" />
<path d="M449.5 1370.7A38.5 22.1 0 0 1 372.5 1370.7" />
<path d="M449.5 1386.8A38.5 22.1 0 0 1 372.5 1386.8" />
<path d="M449.5 1388.7A38.5 22.1 0 0 1 372.5 1388.7" />
<path d="M444.3 1380.6A38.5 22.1 0 0 1 377.7 1380.6" stroke-width="1.6" />
<path d="M375.0 1340.0L375.0 1368.0A36.0 20.6 0 0 0 447.0 1368.0L447.0 1340.0A36.0 20.6 0 0 0 375.0 1340.0Z" fill="#fff" />
<g >
<path d="M393.5 1297.3L392.8 1294.8L392.8 1336.8L393.5 1339.3Z" fill="#fff" />
<path d="M429.2 1294.8L428.5 1297.3L428.5 1339.3L429.2 1336.8Z" fill="#fff" />
<path d="M387.5 1300.2L385.7 1297.8L385.7 1339.8L387.5 1342.2Z" fill="#fff" />
<path d="M436.3 1297.8L434.5 1300.2L434.5 1342.2L436.3 1339.8Z" fill="#fff" />
<path d="M382.8 1303.8L380.1 1301.7L380.1 1343.7L382.8 1345.8Z" fill="#fff" />
<path d="M441.9 1301.7L439.2 1303.8L439.2 1345.8L441.9 1343.7Z" fill="#fff" />
<path d="M379.7 1307.9L376.2 1306.3L376.2 1348.3L379.7 1349.9Z" fill="#fff" />
<path d="M445.8 1306.3L442.3 1307.9L442.3 1349.9L445.8 1348.3Z" fill="#fff" />
<path d="M378.5 1312.3L374.4 1311.2L374.4 1353.2L378.5 1354.3Z" fill="#fff" />
<path d="M447.6 1311.2L443.5 1312.3L443.5 1354.3L447.6 1353.2Z" fill="#fff" />
<path d="M378.5 1313.7L378.5 1312.3L378.5 1354.3L378.5 1355.7Z" fill="#fff" />
<path d="M443.5 1312.3L443.5 1313.7L443.5 1355.7L443.5 1354.3Z" fill="#fff" />
<path d="M374.8 1316.3L374.4 1314.8L374.4 1356.8L374.8 1358.3Z" fill="#fff" />
<path d="M447.6 1314.8L447.2 1316.3L447.2 1358.3L447.6 1356.8Z" fill="#fff" />
<path d="M379.2 1316.8L374.8 1316.3L374.8 1358.3L379.2 1358.8Z" fill="#fff" />
<path d="M447.2 1316.3L442.8 1316.8L442.8 1358.8L447.2 1358.3Z" fill="#fff" />
<path d="M442.8 1316.8L442.3 1318.1L442.3 1360.1L442.8 1358.8Z" fill="#fff" />
<path d="M379.7 1318.1L379.2 1316.8L379.2 1358.8L379.7 1360.1Z" fill="#fff" />
<path d="M445.8 1319.7L444.8 1321.2L444.8 1363.2L445.8 1361.7Z" fill="#fff" />
<path d="M377.2 1321.2L376.2 1319.7L376.2 1361.7L377.2 1363.2Z" fill="#fff" />
<path d="M444.8 1321.2L440.3 1321.0L440.3 1363.0L444.8 1363.2Z" fill="#fff" />
<path d="M381.7 1321.0L377.2 1321.2L377.2 1363.2L381.7 1363.0Z" fill="#fff" />
<path d="M440.3 1321.0L439.2 1322.2L439.2 1364.2L440.3 1363.0Z" fill="#fff" />
<path d="M382.8 1322.2L381.7 1321.0L381.7 1363.0L382.8 1364.2Z" fill="#fff" />
<path d="M441.9 1324.3L440.4 1325.5L440.4 1367.5L441.9 1366.3Z" fill="#fff" />
<path d="M381.6 1325.5L380.1 1324.3L380.1 1366.3L381.6 1367.5Z" fill="#fff" />
<path d="M440.4 1325.5L436.1 1324.8L436.1 1366.8L440.4 1367.5Z" fill="#fff" />
<path d="M385.9 1324.8L381.6 1325.5L381.6 1367.5L385.9 1366.8Z" fill="#fff" />
<path d="M436.1 1324.8L434.5 1325.8L434.5 1367.8L436.1 1366.8Z" fill="#fff" />
<path d="M387.5 1325.8L385.9 1324.8L385.9 1366.8L387.5 1367.8Z" fill="#fff" />
<path d="M430.4 1327.9L428.5 1328.7L428.5 1370.7L430.4 1369.9Z" fill="#fff" />
<path d="M393.5 1328.7L391.6 1327.9L391.6 1369.9L393.5 1370.7Z" fill="#fff" />
<path d="M434.3 1329.2L430.4 1327.9L430.4 1369.9L434.3 1371.2Z" fill="#fff" />
<path d="M391.6 1327.9L387.7 1329.2L387.7 1371.2L391.6 1369.9Z" fill="#fff" />
<path d="M436.3 1328.2L434.3 1329.2L434.3 1371.2L436.3 1370.2Z" fill="#fff" />
<path d="M387.7 1329.2L385.7 1328.2L385.7 1370.2L387.7 1371.2Z" fill="#fff" />
<path d="M423.6 1330.1L421.4 1330.6L421.4 1372.6L423.6 1372.1Z" fill="#fff" />
<path d="M400.6 1330.6L398.4 1330.1L398.4 1372.1L400.6 1372.6Z" fill="#fff" />
<path d="M426.9 1331.9L423.6 1330.1L423.6 1372.1L426.9 1373.9Z" fill="#fff" />
<path d="M398.4 1330.1L395.1 1331.9L395.1 1373.9L398.4 1372.1Z" fill="#fff" />
<path d="M416.1 1331.4L413.7 1331.5L413.7 1373.5L416.1 1373.4Z" fill="#fff" />
<path d="M408.3 1331.5L405.9 1331.4L405.9 1373.4L408.3 1373.5Z" fill="#fff" />
<path d="M429.2 1331.2L426.9 1331.9L426.9 1373.9L429.2 1373.2Z" fill="#fff" />
<path d="M395.1 1331.9L392.8 1331.2L392.8 1373.2L395.1 1373.9Z" fill="#fff" />
<path d="M421.4 1330.6L421.1 1333.2L421.1 1375.2L421.4 1372.6Z" fill="#fff" />
<path d="M400.9 1333.2L400.6 1330.6L400.6 1372.6L400.9 1375.2Z" fill="#fff" />
<path d="M418.5 1333.6L416.1 1331.4L416.1 1373.4L418.5 1375.6Z" fill="#fff" />
<path d="M405.9 1331.4L403.5 1333.6L403.5 1375.6L405.9 1373.4Z" fill="#fff" />
<path d="M413.7 1331.5L412.3 1334.0L412.3 1376.0L413.7 1373.5Z" fill="#fff" />
<path d="M409.7 1334.0L408.3 1331.5L408.3 1373.5L409.7 1376.0Z" fill="#fff" />
<path d="M421.1 1333.2L418.5 1333.6L418.5 1375.6L421.1 1375.2Z" fill="#fff" />
<path d="M403.5 1333.6L400.9 1333.2L400.9 1375.2L403.5 1375.6Z" fill="#fff" />
<path d="M412.3 1334.0L409.7 1334.0L409.7 1376.0L412.3 1376.0Z" fill="#fff" />
<path d="M442.8 1316.8L442.3 1318.1L445.8 1319.7L444.8 1321.2L440.3 1321.0L439.2 1322.2L441.9 1324.3L440.4 1325.5L436.1 1324.8L434.5 1325.8L436.3 1328.2L434.3 1329.2L430.4 1327.9L428.5 1328.7L429.2 1331.2L426.9 1331.9L423.6 1330.1L421.4 1330.6L421.1 1333.2L418.5 1333.6L416.1 1331.4L413.7 1331.5L412.3 1334.0L409.7 1334.0L408.3 1331.5L405.9 1331.4L403.5 1333.6L400.9 1333.2L400.6 1330.6L398.4 1330.1L395.1 1331.9L392.8 1331.2L393.5 1328.7L391.6 1327.9L387.7 1329.2L385.7 1328.2L387.5 1325.8L385.9 1324.8L381.6 1325.5L380.1 1324.3L382.8 1322.2L381.7 1321.0L377.2 1321.2L376.2 1319.7L379.7 1318.1L379.2 1316.8L374.8 1316.3L374.4 1314.8L378.5 1313.7L378.5 1312.3L374.4 1311.2L374.8 1309.7L379.2 1309.2L379.7 1307.9L376.2 1306.3L377.2 1304.8L381.7 1305.0L382.8 1303.8L380.1 1301.7L381.6 1300.5L385.9 1301.2L387.5 1300.2L385.7 1297.8L387.7 1296.8L391.6 1298.1L393.5 1297.3L392.8 1294.8L395.1 1294.1L398.4 1295.9L400.6 1295.4L400.9 1292.8L403.5 1292.4L405.9 1294.6L408.3 1294.5L409.7 1292.0L412.3 1292.0L413.7 1294.5L416.1 1294.6L418.5 1292.4L421.1 1292.8L421.4 1295.4L423.6 1295.9L426.9 1294.1L429.2 1294.8L428.5 1297.3L430.4 1298.1L434.3 1296.8L436.3 1297.8L434.5 1300.2L436.1 1301.2L440.4 1300.5L441.9 1301.7L439.2 1303.8L440.3 1305.0L444.8 1304.8L445.8 1306.3L442.3 1307.9L442.8 1309.2L447.2 1309.7L447.6 1311.2L443.5 1312.3L443.5 1313.7L447.6 1314.8L447.2 1316.3Z" fill="#fff" />
</g>
<ellipse cx="411.0" cy="1311.5" rx="30.5" ry="17.4" fill="#fff" />
<ellipse cx="411.0" cy="1310.2" rx="27.7" ry="15.9" fill="#fff" />
<ellipse cx="411.0" cy="1310.6" rx="23.7" ry="13.6" />
<ellipse cx="411.0" cy="1310.9" rx="3.0" ry="1.7" />
<path d="M410.5 1288.0L410.5 1291.5" />
<path d="M340.4 1214.0L340.4 1242.0A70.8 40.7 0 0 0 482.0 1242.0L482.0 1214.0A70.8 40.7 0 0 0 340.4 1214.0Z" fill="#fff" />
<ellipse cx="411.2" cy="1214.0" rx="70.8" ry="40.7" fill="#fff" />
<ellipse cx="411.2" cy="1214.3" rx="65.0" ry="37.4" />
<ellipse cx="411.2" cy="1214.5" rx="62.7" ry="36.0" />
<clipPath id="c2"><path d="M348.5 1214.5A62.7 36 0 1 0 473.9 1214.5A62.7 36 0 1 0 348.5 1214.5Z"/></clipPath><g clip-path="url(#c2)">
<circle cx="402.3" cy="1185.8" r="7.7" fill="#fff"/>
<circle cx="420.1" cy="1185.8" r="7.7" fill="#fff"/>
<circle cx="385.4" cy="1189.0" r="7.7" fill="#fff"/>
<circle cx="437.0" cy="1189.0" r="7.7" fill="#fff"/>
<circle cx="451.4" cy="1194.9" r="7.7" fill="#fff"/>
<circle cx="371.0" cy="1194.9" r="7.7" fill="#fff"/>
<circle cx="360.6" cy="1203.2" r="7.7" fill="#fff"/>
<circle cx="461.8" cy="1203.2" r="7.7" fill="#fff"/>
<circle cx="355.1" cy="1212.9" r="7.7" fill="#fff"/>
<circle cx="467.3" cy="1212.9" r="7.7" fill="#fff"/>
<circle cx="467.3" cy="1223.1" r="7.7" fill="#fff"/>
<circle cx="355.1" cy="1223.1" r="7.7" fill="#fff"/>
<circle cx="461.8" cy="1232.8" r="7.7" fill="#fff"/>
<circle cx="360.6" cy="1232.8" r="7.7" fill="#fff"/>
<circle cx="451.4" cy="1241.1" r="7.7" fill="#fff"/>
<circle cx="371.0" cy="1241.1" r="7.7" fill="#fff"/>
<circle cx="437.0" cy="1247.0" r="7.7" fill="#fff"/>
<circle cx="385.4" cy="1247.0" r="7.7" fill="#fff"/>
<circle cx="420.1" cy="1250.2" r="7.7" fill="#fff"/>
<circle cx="402.3" cy="1250.2" r="7.7" fill="#fff"/>
</g>
<ellipse cx="411.2" cy="1215.0" rx="48.6" ry="28.0" fill="#fff" />
<ellipse cx="411.2" cy="1214.7" rx="42.9" ry="24.7" fill="#fff" />
<path d="M375.5 1225.5L386.0 1220.0" />
<path d="M441.0 1222.0L447.5 1226.5" />
<path d="M336.1 1152.9L336.1 1174.7A75.0 43.4 0 0 0 486.1 1174.7L486.1 1152.9A75.0 43.4 0 0 0 336.1 1152.9Z" fill="#fff" />
<ellipse cx="411.1" cy="1152.9" rx="75.0" ry="43.4" fill="#fff" />
<ellipse cx="411.1" cy="1152.9" rx="45.6" ry="26.1" fill="#fff" />
<clipPath id="c3"><path d="M365.5 1152.9A45.6 26.1 0 1 0 456.7 1152.9A45.6 26.1 0 1 0 365.5 1152.9Z"/></clipPath><g clip-path="url(#c3)">
<path d="M365.5 1154.8A45.6 26.1 0 0 1 369.8 1144.3" />
<path d="M452.4 1144.3A45.6 26.1 0 0 1 456.7 1154.8" />
<path d="M365.5 1157.2A45.6 26.1 0 0 1 371.6 1144.7" />
<path d="M450.6 1144.7A45.6 26.1 0 0 1 456.7 1157.2" />
<path d="M365.5 1159.6A45.6 26.1 0 0 1 373.7 1145.1" />
<path d="M448.5 1145.1A45.6 26.1 0 0 1 456.7 1159.6" />
<path d="M365.5 1162.0A45.6 26.1 0 0 1 376.2 1145.7" />
<path d="M446.0 1145.7A45.6 26.1 0 0 1 456.7 1162.0" />
<path d="M365.5 1164.4A45.6 26.1 0 0 1 378.9 1146.4" />
<path d="M443.3 1146.4A45.6 26.1 0 0 1 456.7 1164.4" />
<path d="M365.5 1166.8A45.6 26.1 0 0 1 381.8 1147.3" />
<path d="M440.4 1147.3A45.6 26.1 0 0 1 456.7 1166.8" />
<path d="M365.5 1169.2A45.6 26.1 0 0 1 384.9 1148.3" />
<path d="M437.3 1148.3A45.6 26.1 0 0 1 456.7 1169.2" />
</g>
<ellipse cx="469.9" cy="1152.9" rx="5.9" ry="3.6" fill="#fff" />
<path d="M473.7 1155.3A5.0 3.3 0 0 1 466.1 1155.3" stroke-width="1.5" />
<ellipse cx="411.1" cy="1187.1" rx="5.9" ry="3.6" fill="#fff" />
<path d="M414.9 1189.5A5.0 3.3 0 0 1 407.3 1189.5" stroke-width="1.5" />
<ellipse cx="352.3" cy="1152.9" rx="5.9" ry="3.6" fill="#fff" />
<path d="M356.1 1155.3A5.0 3.3 0 0 1 348.5 1155.3" stroke-width="1.5" />
<path d="M336.1 1103.4L336.1 1109.0A74.8 43.1 0 0 0 485.7 1109.0L485.7 1103.4A74.8 43.1 0 0 0 336.1 1103.4Z" fill="#fff" />
<ellipse cx="410.9" cy="1103.4" rx="74.8" ry="43.1" fill="#fff" />
<ellipse cx="410.9" cy="1103.4" rx="45.5" ry="26.4" fill="#fff" />
<clipPath id="c4"><path d="M365.4 1103.4A45.5 26.4 0 1 0 456.4 1103.4A45.5 26.4 0 1 0 365.4 1103.4Z"/></clipPath><g clip-path="url(#c4)">
<path d="M365.4 1109.6A45.5 26.4 0 0 1 456.4 1109.6" />
</g>
<ellipse cx="469.7" cy="1103.7" rx="5.9" ry="3.6" fill="#fff" />
<path d="M473.5 1106.1A5.0 3.3 0 0 1 465.9 1106.1" stroke-width="1.5" />
<ellipse cx="410.9" cy="1137.9" rx="5.9" ry="3.6" fill="#fff" />
<path d="M414.7 1140.3A5.0 3.3 0 0 1 407.1 1140.3" stroke-width="1.5" />
<ellipse cx="352.1" cy="1103.7" rx="5.9" ry="3.6" fill="#fff" />
<path d="M355.9 1106.1A5.0 3.3 0 0 1 348.3 1106.1" stroke-width="1.5" />
<ellipse cx="410.9" cy="1069.5" rx="5.9" ry="3.6" fill="#fff" />
<path d="M414.7 1071.9A5.0 3.3 0 0 1 407.1 1071.9" stroke-width="1.5" />
<path d="M347.55 1034L347.55 1066.3A4.65 2.6 0 0 0 356.84999999999997 1066.3L356.84999999999997 1034Z" fill="#fff" />
<path d="M356.8 1055.5A4.7 2.6 0 0 1 347.6 1055.5" />
<path d="M356.8 1058.2A4.7 2.6 0 0 1 347.6 1058.2" />
<path d="M356.8 1060.9A4.7 2.6 0 0 1 347.6 1060.9" />
<path d="M356.8 1063.6A4.7 2.6 0 0 1 347.6 1063.6" />
<path d="M362.0 1028.2L357.1 1033.0L357.1 1039.5L362.0 1034.7Z" fill="#fff" />
<path d="M357.1 1033.0L347.3 1033.0L347.3 1039.5L357.1 1039.5Z" fill="#fff" />
<path d="M347.3 1033.0L342.4 1028.2L342.4 1034.7L347.3 1039.5Z" fill="#fff" />
<path d="M362.0 1028.2L357.1 1033.0L347.3 1033.0L342.4 1028.2L347.3 1023.4L357.1 1023.4Z" fill="#fff" />
<path d="M352.5 1071.0L352.5 1103.0" />
<path d="M364.3 965.0L364.3 1006.9A46.7 27.0 0 0 0 457.7 1006.9L457.7 965.0A46.7 27.0 0 0 0 364.3 965.0Z" fill="#fff" />
<path d="M328.4 916.6L328.4 965.1A82.6 47.8 0 0 0 493.6 965.1L493.6 916.6A82.6 47.8 0 0 0 328.4 916.6Z" fill="#fff" />
<ellipse cx="411.0" cy="916.6" rx="82.6" ry="47.8" fill="#fff" />
<path d="M372.3 971.7L368.2 970.7L364.3 969.5L360.5 968.2L356.8 966.8L353.4 965.2L350.1 963.5L347.0 961.8L344.1 959.9L341.5 957.9L339.0 955.9L336.8 953.8L334.9 951.6L333.2 949.3L331.7 947.0L331.7 968.0L333.2 970.5L334.9 973.0L336.8 975.4L339.0 977.7L341.5 979.9L344.1 982.1L347.0 984.2L350.1 986.1L353.4 988.0L356.8 989.8L360.5 991.4L364.3 992.9L368.2 994.3L372.3 995.5Z" fill="#fff" />
<path d="M338.5 955.1L338.5 966.4" />
<path d="M331.7 968.0L338.8 966.4" />
<path d="M338.8 966.4L341.2 969.4L343.9 972.2L346.7 975.0L349.8 977.7L353.2 980.2L356.7 982.7L360.3 985.0L364.2 987.2L368.2 989.3L372.3 991.2" />
<path d="M449.7 971.7L453.8 970.7L457.7 969.5L461.5 968.2L465.2 966.8L468.6 965.2L471.9 963.5L475.0 961.8L477.9 959.9L480.5 957.9L483.0 955.9L485.2 953.8L487.1 951.6L488.8 949.3L490.3 947.0L490.3 968.0L488.8 970.5L487.1 973.0L485.2 975.4L483.0 977.7L480.5 979.9L477.9 982.1L475.0 984.2L471.9 986.1L468.6 988.0L465.2 989.8L461.5 991.4L457.7 992.9L453.8 994.3L449.7 995.5Z" fill="#fff" />
<path d="M483.5 955.1L483.5 966.4" />
<path d="M490.3 968.0L483.2 966.4" />
<path d="M483.2 966.4L480.8 969.4L478.1 972.2L475.3 975.0L472.2 977.7L468.8 980.2L465.3 982.7L461.7 985.0L457.8 987.2L453.8 989.3L449.7 991.2" />
<ellipse cx="411.0" cy="925.0" rx="49.0" ry="28.2" stroke-dasharray="1 1.7"/>
<ellipse cx="411.0" cy="930.0" rx="44.0" ry="25.3" stroke-dasharray="1 1.7"/>
<ellipse cx="411.0" cy="960.0" rx="49.0" ry="28.2" stroke-dasharray="1 1.7"/>
<ellipse cx="411.0" cy="962.0" rx="40.0" ry="23.0" stroke-dasharray="1 1.7"/>
<ellipse cx="411.0" cy="964.0" rx="36.0" ry="20.7" stroke-dasharray="1 1.7"/>
<path d="M373.5 943.8L373.5 978.2" stroke-dasharray="1 1.7"/>
<path d="M376.5 943.8L376.5 978.2" stroke-dasharray="1 1.7"/>
<path d="M379.5 943.5L379.5 979.5" stroke-dasharray="1 1.7"/>
<path d="M382.5 943.5L382.5 979.5" stroke-dasharray="1 1.7"/>
<path d="M385.5 943.2L385.5 980.8" stroke-dasharray="1 1.7"/>
<path d="M388.5 943.2L388.5 980.8" stroke-dasharray="1 1.7"/>
<path d="M391.5 942.9L391.5 982.1" stroke-dasharray="1 1.7"/>
<path d="M394.5 942.9L394.5 982.1" stroke-dasharray="1 1.7"/>
<path d="M397.5 942.6L397.5 983.4" stroke-dasharray="1 1.7"/>
<path d="M400.5 942.6L400.5 983.4" stroke-dasharray="1 1.7"/>
<path d="M403.5 942.3L403.5 984.7" stroke-dasharray="1 1.7"/>
<path d="M406.5 942.3L406.5 984.7" stroke-dasharray="1 1.7"/>
<path d="M409.5 942.0L409.5 986.0" stroke-dasharray="1 1.7"/>
<path d="M412.5 942.0L412.5 986.0" stroke-dasharray="1 1.7"/>
<path d="M415.5 942.3L415.5 984.7" stroke-dasharray="1 1.7"/>
<path d="M418.5 942.3L418.5 984.7" stroke-dasharray="1 1.7"/>
<path d="M421.5 942.6L421.5 983.4" stroke-dasharray="1 1.7"/>
<path d="M424.5 942.6L424.5 983.4" stroke-dasharray="1 1.7"/>
<path d="M427.5 942.9L427.5 982.1" stroke-dasharray="1 1.7"/>
<path d="M430.5 942.9L430.5 982.1" stroke-dasharray="1 1.7"/>
<path d="M433.5 943.2L433.5 980.8" stroke-dasharray="1 1.7"/>
<path d="M436.5 943.2L436.5 980.8" stroke-dasharray="1 1.7"/>
<path d="M439.5 943.5L439.5 979.5" stroke-dasharray="1 1.7"/>
<path d="M442.5 943.5L442.5 979.5" stroke-dasharray="1 1.7"/>
<path d="M445.5 943.8L445.5 978.2" stroke-dasharray="1 1.7"/>
<path d="M448.5 943.8L448.5 978.2" stroke-dasharray="1 1.7"/>
<path d="M362.5 925.0L362.5 960.0" stroke-dasharray="1 1.7"/>
<path d="M460.5 925.0L460.5 960.0" stroke-dasharray="1 1.7"/>
<ellipse cx="411.0" cy="916.6" rx="45.6" ry="26.0" fill="#fff" />
<ellipse cx="411.0" cy="917.0" rx="43.6" ry="24.9" />
<clipPath id="c5"><path d="M367.4 917.0A43.6 24.9 0 1 0 454.6 917.0A43.6 24.9 0 1 0 367.4 917.0Z"/></clipPath><g clip-path="url(#c5)">
<path d="M369.0 928.3A42.0 24.0 0 0 1 453.0 928.3" />
<ellipse cx="411.0" cy="925.0" rx="49.0" ry="28.2" stroke-dasharray="1 1.7"/>
</g>
<ellipse cx="411.0" cy="879.9" rx="14.1" ry="8.2" fill="#fff" />
<clipPath id="c6"><path d="M396.9 879.9A14.1 8.2 0 1 0 425.1 879.9A14.1 8.2 0 1 0 396.9 879.9Z"/></clipPath><g clip-path="url(#c6)">
<path d="M396.9 884.3A14.1 8.2 0 0 1 425.1 884.3" />
</g>
<ellipse cx="466.0" cy="935.0" rx="14.1" ry="8.2" fill="#fff" />
<clipPath id="c7"><path d="M451.9 935.0A14.1 8.2 0 1 0 480.1 935.0A14.1 8.2 0 1 0 451.9 935.0Z"/></clipPath><g clip-path="url(#c7)">
<path d="M451.9 939.4A14.1 8.2 0 0 1 480.1 939.4" />
</g>
<ellipse cx="356.0" cy="935.0" rx="14.1" ry="8.2" fill="#fff" />
<clipPath id="c8"><path d="M341.9 935.0A14.1 8.2 0 1 0 370.1 935.0A14.1 8.2 0 1 0 341.9 935.0Z"/></clipPath><g clip-path="url(#c8)">
<path d="M341.9 939.4A14.1 8.2 0 0 1 370.1 939.4" />
</g>
<ellipse cx="353.7" cy="898.1" rx="3.6" ry="2.2" fill="#fff" />
<ellipse cx="467.9" cy="898.1" rx="3.6" ry="2.2" fill="#fff" />
<ellipse cx="410.7" cy="955.0" rx="3.6" ry="2.2" fill="#fff" />
<ellipse cx="343" cy="986.9" rx="1.8" ry="2.6" transform="rotate(-25 343 986.9)"/>
<ellipse cx="475.4" cy="990.2" rx="1.8" ry="2.6" transform="rotate(-25 475.4 990.2)"/>
<path d="M476.8 991.2L491.8 999.9" />
<path d="M491.0 1001.3L512.0 1012.9L513.6 1010.1L492.6 998.5Z" fill="#fff" />
<ellipse cx="512.8" cy="1011.5" rx="1.0" ry="1.6" fill="#fff" transform="rotate(28.9 512.8 1011.5)"/>
<path d="M504.5 1010.5L504.5 1042.5" />
<path d="M374.0 832.0L374.0 833.8A36.8 21.2 0 0 0 447.6 833.8L447.6 832.0A36.8 21.2 0 0 0 374.0 832.0Z" fill="#fff" />
<ellipse cx="410.8" cy="832.0" rx="36.8" ry="21.2" fill="#fff" />
<ellipse cx="410.8" cy="832.3" rx="12.9" ry="7.7" fill="#fff" />
<path d="M398.7 830.3A12.9 7.7 0 0 1 422.9 830.3" />
<g >
<path d="M397.0 723.7L395.9 718.9L395.9 763.4L397.0 768.2Z" fill="#fff" />
<path d="M424.1 718.9L423.0 723.7L423.0 768.2L424.1 763.4Z" fill="#fff" />
<path d="M389.1 727.1L385.2 722.8L385.2 767.3L389.1 771.6Z" fill="#fff" />
<path d="M434.8 722.8L430.9 727.1L430.9 771.6L434.8 767.3Z" fill="#fff" />
<path d="M383.7 731.9L377.4 728.6L377.4 773.1L383.7 776.4Z" fill="#fff" />
<path d="M442.6 728.6L436.3 731.9L436.3 776.4L442.6 773.1Z" fill="#fff" />
<path d="M381.4 737.4L373.6 735.6L373.6 780.1L381.4 781.9Z" fill="#fff" />
<path d="M446.4 735.6L438.6 737.4L438.6 781.9L446.4 780.1Z" fill="#fff" />
<path d="M381.4 739.2L381.4 737.4L381.4 781.9L381.4 783.7Z" fill="#fff" />
<path d="M438.6 737.4L438.6 739.2L438.6 783.7L438.6 781.9Z" fill="#fff" />
<path d="M374.2 742.9L373.6 741.0L373.6 785.5L374.2 787.4Z" fill="#fff" />
<path d="M446.4 741.0L445.8 742.9L445.8 787.4L446.4 785.5Z" fill="#fff" />
<path d="M382.6 743.1L374.2 742.9L374.2 787.4L382.6 787.6Z" fill="#fff" />
<path d="M445.8 742.9L437.4 743.1L437.4 787.6L445.8 787.4Z" fill="#fff" />
<path d="M437.4 743.1L436.3 744.7L436.3 789.2L437.4 787.6Z" fill="#fff" />
<path d="M383.7 744.7L382.6 743.1L382.6 787.6L383.7 789.2Z" fill="#fff" />
<path d="M442.6 748.0L440.9 749.6L440.9 794.1L442.6 792.5Z" fill="#fff" />
<path d="M379.1 749.6L377.4 748.0L377.4 792.5L379.1 794.1Z" fill="#fff" />
<path d="M432.8 748.1L430.9 749.5L430.9 794.0L432.8 792.6Z" fill="#fff" />
<path d="M389.1 749.5L387.2 748.1L387.2 792.6L389.1 794.0Z" fill="#fff" />
<path d="M440.9 749.6L432.8 748.1L432.8 792.6L440.9 794.1Z" fill="#fff" />
<path d="M387.2 748.1L379.1 749.6L379.1 794.1L387.2 792.6Z" fill="#fff" />
<path d="M425.6 752.0L423.0 752.9L423.0 797.4L425.6 796.5Z" fill="#fff" />
<path d="M397.0 752.9L394.4 752.0L394.4 796.5L397.0 797.4Z" fill="#fff" />
<path d="M432.3 755.0L425.6 752.0L425.6 796.5L432.3 799.5Z" fill="#fff" />
<path d="M394.4 752.0L387.7 755.0L387.7 799.5L394.4 796.5Z" fill="#fff" />
<path d="M434.8 753.8L432.3 755.0L432.3 799.5L434.8 798.3Z" fill="#fff" />
<path d="M387.7 755.0L385.2 753.8L385.2 798.3L387.7 799.5Z" fill="#fff" />
<path d="M416.4 754.2L413.5 754.5L413.5 799.0L416.4 798.7Z" fill="#fff" />
<path d="M406.5 754.5L403.6 754.2L403.6 798.7L406.5 799.0Z" fill="#fff" />
<path d="M421.0 758.3L416.4 754.2L416.4 798.7L421.0 802.8Z" fill="#fff" />
<path d="M403.6 754.2L399.0 758.3L399.0 802.8L403.6 798.7Z" fill="#fff" />
<path d="M413.5 754.5L411.7 759.3L411.7 803.8L413.5 799.0Z" fill="#fff" />
<path d="M408.3 759.3L406.5 754.5L406.5 799.0L408.3 803.8Z" fill="#fff" />
<path d="M424.1 757.7L421.0 758.3L421.0 802.8L424.1 802.2Z" fill="#fff" />
<path d="M399.0 758.3L395.9 757.7L395.9 802.2L399.0 802.8Z" fill="#fff" />
<path d="M411.7 759.3L408.3 759.3L408.3 803.8L411.7 803.8Z" fill="#fff" />
<path d="M437.4 743.1L436.3 744.7L442.6 748.0L440.9 749.6L432.8 748.1L430.9 749.5L434.8 753.8L432.3 755.0L425.6 752.0L423.0 752.9L424.1 757.7L421.0 758.3L416.4 754.2L413.5 754.5L411.7 759.3L408.3 759.3L406.5 754.5L403.6 754.2L399.0 758.3L395.9 757.7L397.0 752.9L394.4 752.0L387.7 755.0L385.2 753.8L389.1 749.5L387.2 748.1L379.1 749.6L377.4 748.0L383.7 744.7L382.6 743.1L374.2 742.9L373.6 741.0L381.4 739.2L381.4 737.4L373.6 735.6L374.2 733.7L382.6 733.5L383.7 731.9L377.4 728.6L379.1 727.0L387.2 728.5L389.1 727.1L385.2 722.8L387.7 721.6L394.4 724.6L397.0 723.7L395.9 718.9L399.0 718.3L403.6 722.4L406.5 722.1L408.3 717.3L411.7 717.3L413.5 722.1L416.4 722.4L421.0 718.3L424.1 718.9L423.0 723.7L425.6 724.6L432.3 721.6L434.8 722.8L430.9 727.1L432.8 728.5L440.9 727.0L442.6 728.6L436.3 731.9L437.4 733.5L445.8 733.7L446.4 735.6L438.6 737.4L438.6 739.2L446.4 741.0L445.8 742.9Z" fill="#fff" />
</g>
<path d="M382.5 731.0L382.5 739.0A27.5 15.8 0 0 0 437.5 739.0L437.5 731.0A27.5 15.8 0 0 0 382.5 731.0Z" fill="#fff" />
<g >
<path d="M397.0 706.5L395.9 701.7L395.9 712.7L397.0 717.5Z" fill="#fff" />
<path d="M424.1 701.7L423.0 706.5L423.0 717.5L424.1 712.7Z" fill="#fff" />
<path d="M389.1 709.9L385.2 705.6L385.2 716.6L389.1 720.9Z" fill="#fff" />
<path d="M434.8 705.6L430.9 709.9L430.9 720.9L434.8 716.6Z" fill="#fff" />
<path d="M383.7 714.7L377.4 711.4L377.4 722.4L383.7 725.7Z" fill="#fff" />
<path d="M442.6 711.4L436.3 714.7L436.3 725.7L442.6 722.4Z" fill="#fff" />
<path d="M381.4 720.2L373.6 718.4L373.6 729.4L381.4 731.2Z" fill="#fff" />
<path d="M446.4 718.4L438.6 720.2L438.6 731.2L446.4 729.4Z" fill="#fff" />
<path d="M381.4 722.0L381.4 720.2L381.4 731.2L381.4 733.0Z" fill="#fff" />
<path d="M438.6 720.2L438.6 722.0L438.6 733.0L438.6 731.2Z" fill="#fff" />
<path d="M374.2 725.7L373.6 723.8L373.6 734.8L374.2 736.7Z" fill="#fff" />
<path d="M446.4 723.8L445.8 725.7L445.8 736.7L446.4 734.8Z" fill="#fff" />
<path d="M382.6 725.9L374.2 725.7L374.2 736.7L382.6 736.9Z" fill="#fff" />
<path d="M445.8 725.7L437.4 725.9L437.4 736.9L445.8 736.7Z" fill="#fff" />
<path d="M437.4 725.9L436.3 727.5L436.3 738.5L437.4 736.9Z" fill="#fff" />
<path d="M383.7 727.5L382.6 725.9L382.6 736.9L383.7 738.5Z" fill="#fff" />
<path d="M442.6 730.8L440.9 732.4L440.9 743.4L442.6 741.8Z" fill="#fff" />
<path d="M379.1 732.4L377.4 730.8L377.4 741.8L379.1 743.4Z" fill="#fff" />
<path d="M432.8 730.9L430.9 732.3L430.9 743.3L432.8 741.9Z" fill="#fff" />
<path d="M389.1 732.3L387.2 730.9L387.2 741.9L389.1 743.3Z" fill="#fff" />
<path d="M440.9 732.4L432.8 730.9L432.8 741.9L440.9 743.4Z" fill="#fff" />
<path d="M387.2 730.9L379.1 732.4L379.1 743.4L387.2 741.9Z" fill="#fff" />
<path d="M425.6 734.8L423.0 735.7L423.0 746.7L425.6 745.8Z" fill="#fff" />
<path d="M397.0 735.7L394.4 734.8L394.4 745.8L397.0 746.7Z" fill="#fff" />
<path d="M432.3 737.8L425.6 734.8L425.6 745.8L432.3 748.8Z" fill="#fff" />
<path d="M394.4 734.8L387.7 737.8L387.7 748.8L394.4 745.8Z" fill="#fff" />
<path d="M434.8 736.6L432.3 737.8L432.3 748.8L434.8 747.6Z" fill="#fff" />
<path d="M387.7 737.8L385.2 736.6L385.2 747.6L387.7 748.8Z" fill="#fff" />
<path d="M416.4 737.0L413.5 737.3L413.5 748.3L416.4 748.0Z" fill="#fff" />
<path d="M406.5 737.3L403.6 737.0L403.6 748.0L406.5 748.3Z" fill="#fff" />
<path d="M421.0 741.1L416.4 737.0L416.4 748.0L421.0 752.1Z" fill="#fff" />
<path d="M403.6 737.0L399.0 741.1L399.0 752.1L403.6 748.0Z" fill="#fff" />
<path d="M413.5 737.3L411.7 742.1L411.7 753.1L413.5 748.3Z" fill="#fff" />
<path d="M408.3 742.1L406.5 737.3L406.5 748.3L408.3 753.1Z" fill="#fff" />
<path d="M424.1 740.5L421.0 741.1L421.0 752.1L424.1 751.5Z" fill="#fff" />
<path d="M399.0 741.1L395.9 740.5L395.9 751.5L399.0 752.1Z" fill="#fff" />
<path d="M411.7 742.1L408.3 742.1L408.3 753.1L411.7 753.1Z" fill="#fff" />
<path d="M437.4 725.9L436.3 727.5L442.6 730.8L440.9 732.4L432.8 730.9L430.9 732.3L434.8 736.6L432.3 737.8L425.6 734.8L423.0 735.7L424.1 740.5L421.0 741.1L416.4 737.0L413.5 737.3L411.7 742.1L408.3 742.1L406.5 737.3L403.6 737.0L399.0 741.1L395.9 740.5L397.0 735.7L394.4 734.8L387.7 737.8L385.2 736.6L389.1 732.3L387.2 730.9L379.1 732.4L377.4 730.8L383.7 727.5L382.6 725.9L374.2 725.7L373.6 723.8L381.4 722.0L381.4 720.2L373.6 718.4L374.2 716.5L382.6 716.3L383.7 714.7L377.4 711.4L379.1 709.8L387.2 711.3L389.1 709.9L385.2 705.6L387.7 704.4L394.4 707.4L397.0 706.5L395.9 701.7L399.0 701.1L403.6 705.2L406.5 704.9L408.3 700.1L411.7 700.1L413.5 704.9L416.4 705.2L421.0 701.1L424.1 701.7L423.0 706.5L425.6 707.4L432.3 704.4L434.8 705.6L430.9 709.9L432.8 711.3L440.9 709.8L442.6 711.4L436.3 714.7L437.4 716.3L445.8 716.5L446.4 718.4L438.6 720.2L438.6 722.0L446.4 723.8L445.8 725.7Z" fill="#fff" />
</g>
<path d="M390.2 718.8L390.2 721.0A19.8 11.4 0 0 0 429.8 721.0L429.8 718.8A19.8 11.4 0 0 0 390.2 718.8Z" fill="#fff" />
<ellipse cx="410.0" cy="718.8" rx="19.8" ry="11.4" fill="#fff" />
<ellipse cx="410.0" cy="719.4" rx="12.9" ry="8.0" />
<path d="M329.6 611.9L329.6 645.6A80.0 46.0 0 0 0 489.6 645.6L489.6 611.9A80.0 46.0 0 0 0 329.6 611.9Z" fill="#fff" />
<ellipse cx="409.6" cy="611.9" rx="80.0" ry="46.0" fill="#fff" />
<path d="M372.3 661.5L368.0 660.5L363.9 659.4L360.0 658.1L356.2 656.7L352.7 655.2L349.3 653.5L346.2 651.7L343.3 649.8L340.7 647.9L338.4 645.8L336.3 643.7L334.4 641.4L332.9 639.2L331.7 636.8L331.7 651.2L332.9 653.8L334.4 656.3L336.3 658.7L338.4 661.1L340.7 663.3L343.3 665.5L346.2 667.6L349.3 669.6L352.7 671.5L356.2 673.2L360.0 674.9L363.9 676.3L368.0 677.7L372.3 678.9Z" fill="#fff" />
<path d="M338.5 645.9L338.5 651.7" />
<path d="M331.7 651.2L339.0 651.7" />
<path d="M339.0 651.7L341.3 654.5L343.9 657.3L346.8 659.9L349.9 662.5L353.1 665.0L356.6 667.3L360.3 669.5L364.1 671.6L368.1 673.6L372.3 675.4" />
<path d="M446.9 661.5L451.2 660.5L455.3 659.4L459.2 658.1L463.0 656.7L466.5 655.2L469.9 653.5L473.0 651.7L475.9 649.8L478.5 647.9L480.8 645.8L482.9 643.7L484.8 641.4L486.3 639.2L487.5 636.8L487.5 651.2L486.3 653.8L484.8 656.3L482.9 658.7L480.8 661.1L478.5 663.3L475.9 665.5L473.0 667.6L469.9 669.6L466.5 671.5L463.0 673.2L459.2 674.9L455.3 676.3L451.2 677.7L446.9 678.9Z" fill="#fff" />
<path d="M480.5 645.9L480.5 651.7" />
<path d="M487.5 651.2L480.2 651.7" />
<path d="M480.2 651.7L477.9 654.5L475.3 657.3L472.4 659.9L469.3 662.5L466.1 665.0L462.6 667.3L458.9 669.5L455.1 671.6L451.1 673.6L446.9 675.4" />
<ellipse cx="409.6" cy="612.3" rx="44.2" ry="25.3" fill="#fff" />
<path d="M373.2 625.5A42.0 24.0 0 1 1 446.0 625.5" />
<ellipse cx="409.6" cy="576.5" rx="13.8" ry="8.0" fill="#fff" />
<clipPath id="c9"><path d="M395.8 576.5A13.8 8 0 1 0 423.4 576.5A13.8 8 0 1 0 395.8 576.5Z"/></clipPath><g clip-path="url(#c9)">
<path d="M395.8 580.7A13.8 8.0 0 0 1 423.4 580.7" />
</g>
<ellipse cx="462.9" cy="629.6" rx="13.8" ry="8.0" fill="#fff" />
<clipPath id="c10"><path d="M449.1 629.6A13.8 8 0 1 0 476.7 629.6A13.8 8 0 1 0 449.1 629.6Z"/></clipPath><g clip-path="url(#c10)">
<path d="M449.1 633.8A13.8 8.0 0 0 1 476.7 633.8" />
</g>
<ellipse cx="356.3" cy="629.6" rx="13.8" ry="8.0" fill="#fff" />
<clipPath id="c11"><path d="M342.5 629.6A13.8 8 0 1 0 370.1 629.6A13.8 8 0 1 0 342.5 629.6Z"/></clipPath><g clip-path="url(#c11)">
<path d="M342.5 633.8A13.8 8.0 0 0 1 370.1 633.8" />
</g>
<ellipse cx="352.4" cy="592.8" rx="3.5" ry="2.1" fill="#fff" />
<ellipse cx="466.8" cy="592.8" rx="3.5" ry="2.1" fill="#fff" />
<ellipse cx="409.6" cy="650.0" rx="3.5" ry="2.1" fill="#fff" />
<ellipse cx="344.8" cy="670.2" rx="1.6" ry="2.3" transform="rotate(-25 344.8 670.2)"/>
<ellipse cx="474.1" cy="670.9" rx="1.6" ry="2.3" transform="rotate(-25 474.1 670.9)"/>
<path d="M475.5 671.8L491.7 681.8" />
<path d="M491.0 683.2L511.9 694.2L513.3 691.4L492.4 680.4Z" fill="#fff" />
<ellipse cx="512.6" cy="692.8" rx="1.0" ry="1.6" fill="#fff" transform="rotate(27.8 512.6 692.8)"/>
<path d="M505.4 684.0L532.9 669.7" />
<path d="M374.0 527.2L374.0 529.0A36.8 21.1 0 0 0 447.6 529.0L447.6 527.2A36.8 21.1 0 0 0 374.0 527.2Z" fill="#fff" />
<ellipse cx="410.8" cy="527.2" rx="36.8" ry="21.1" fill="#fff" />
<ellipse cx="410.8" cy="527.5" rx="12.8" ry="7.4" fill="#fff" />
<path d="M398.8 525.6A12.8 7.4 0 0 1 422.8 525.6" />
<g >
<path d="M397.0 446.7L395.9 441.9L395.9 454.1L397.0 458.9Z" fill="#fff" />
<path d="M424.1 441.9L423.0 446.7L423.0 458.9L424.1 454.1Z" fill="#fff" />
<path d="M389.1 450.1L385.1 445.8L385.1 458.0L389.1 462.3Z" fill="#fff" />
<path d="M434.9 445.8L430.9 450.1L430.9 462.3L434.9 458.0Z" fill="#fff" />
<path d="M442.7 451.6L436.3 454.9L436.3 467.1L442.7 463.8Z" fill="#fff" />
<path d="M383.7 454.9L377.3 451.6L377.3 463.8L383.7 467.1Z" fill="#fff" />
<path d="M381.4 460.4L373.5 458.6L373.5 470.8L381.4 472.6Z" fill="#fff" />
<path d="M446.5 458.6L438.6 460.4L438.6 472.6L446.5 470.8Z" fill="#fff" />
<path d="M381.4 462.2L381.4 460.4L381.4 472.6L381.4 474.4Z" fill="#fff" />
<path d="M438.6 460.4L438.6 462.2L438.6 474.4L438.6 472.6Z" fill="#fff" />
<path d="M374.1 465.9L373.5 464.0L373.5 476.2L374.1 478.1Z" fill="#fff" />
<path d="M446.5 464.0L445.9 465.9L445.9 478.1L446.5 476.2Z" fill="#fff" />
<path d="M382.6 466.1L374.1 465.9L374.1 478.1L382.6 478.3Z" fill="#fff" />
<path d="M445.9 465.9L437.4 466.1L437.4 478.3L445.9 478.1Z" fill="#fff" />
<path d="M437.4 466.1L436.3 467.7L436.3 479.9L437.4 478.3Z" fill="#fff" />
<path d="M383.7 467.7L382.6 466.1L382.6 478.3L383.7 479.9Z" fill="#fff" />
<path d="M432.8 471.1L430.9 472.5L430.9 484.7L432.8 483.3Z" fill="#fff" />
<path d="M389.1 472.5L387.2 471.1L387.2 483.3L389.1 484.7Z" fill="#fff" />
<path d="M442.7 471.0L441.0 472.6L441.0 484.8L442.7 483.2Z" fill="#fff" />
<path d="M379.0 472.6L377.3 471.0L377.3 483.2L379.0 484.8Z" fill="#fff" />
<path d="M441.0 472.6L432.8 471.1L432.8 483.3L441.0 484.8Z" fill="#fff" />
<path d="M387.2 471.1L379.0 472.6L379.0 484.8L387.2 483.3Z" fill="#fff" />
<path d="M425.6 475.0L423.0 475.9L423.0 488.1L425.6 487.2Z" fill="#fff" />
<path d="M397.0 475.9L394.4 475.0L394.4 487.2L397.0 488.1Z" fill="#fff" />
<path d="M432.4 478.0L425.6 475.0L425.6 487.2L432.4 490.2Z" fill="#fff" />
<path d="M394.4 475.0L387.6 478.0L387.6 490.2L394.4 487.2Z" fill="#fff" />
<path d="M416.4 477.2L413.5 477.5L413.5 489.7L416.4 489.4Z" fill="#fff" />
<path d="M406.5 477.5L403.6 477.2L403.6 489.4L406.5 489.7Z" fill="#fff" />
<path d="M434.9 476.8L432.4 478.0L432.4 490.2L434.9 489.0Z" fill="#fff" />
<path d="M387.6 478.0L385.1 476.8L385.1 489.0L387.6 490.2Z" fill="#fff" />
<path d="M421.0 481.4L416.4 477.2L416.4 489.4L421.0 493.6Z" fill="#fff" />
<path d="M403.6 477.2L399.0 481.4L399.0 493.6L403.6 489.4Z" fill="#fff" />
<path d="M413.5 477.5L411.7 482.3L411.7 494.5L413.5 489.7Z" fill="#fff" />
<path d="M408.3 482.3L406.5 477.5L406.5 489.7L408.3 494.5Z" fill="#fff" />
<path d="M424.1 480.7L421.0 481.4L421.0 493.6L424.1 492.9Z" fill="#fff" />
<path d="M399.0 481.4L395.9 480.7L395.9 492.9L399.0 493.6Z" fill="#fff" />
<path d="M411.7 482.3L408.3 482.3L408.3 494.5L411.7 494.5Z" fill="#fff" />
<path d="M437.4 466.1L436.3 467.7L442.7 471.0L441.0 472.6L432.8 471.1L430.9 472.5L434.9 476.8L432.4 478.0L425.6 475.0L423.0 475.9L424.1 480.7L421.0 481.4L416.4 477.2L413.5 477.5L411.7 482.3L408.3 482.3L406.5 477.5L403.6 477.2L399.0 481.4L395.9 480.7L397.0 475.9L394.4 475.0L387.6 478.0L385.1 476.8L389.1 472.5L387.2 471.1L379.0 472.6L377.3 471.0L383.7 467.7L382.6 466.1L374.1 465.9L373.5 464.0L381.4 462.2L381.4 460.4L373.5 458.6L374.1 456.7L382.6 456.5L383.7 454.9L377.3 451.6L379.0 450.0L387.2 451.5L389.1 450.1L385.1 445.8L387.6 444.6L394.4 447.6L397.0 446.7L395.9 441.9L399.0 441.2L403.6 445.4L406.5 445.1L408.3 440.3L411.7 440.3L413.5 445.1L416.4 445.4L421.0 441.2L424.1 441.9L423.0 446.7L425.6 447.6L432.4 444.6L434.9 445.8L430.9 450.1L432.8 451.5L441.0 450.0L442.7 451.6L436.3 454.9L437.4 456.5L445.9 456.7L446.5 458.6L438.6 460.4L438.6 462.2L446.5 464.0L445.9 465.9Z" fill="#fff" />
</g>
<ellipse cx="410.0" cy="461.6" rx="19.8" ry="11.6" fill="#fff" />
<ellipse cx="410.0" cy="461.9" rx="18.2" ry="10.5" />
<clipPath id="c12"><path d="M391.8 461.9A18.2 10.5 0 1 0 428.2 461.9A18.2 10.5 0 1 0 391.8 461.9Z"/></clipPath><g clip-path="url(#c12)">
<path d="M391.8 474.3A18.2 10.5 0 0 1 428.2 474.3" />
</g>
<path d="M515.2 605.0L515.2 607.0A20.9 11.6 0 0 0 557.0 607.0L557.0 605.0A20.9 11.6 0 0 0 515.2 605.0Z" fill="#fff" />
<ellipse cx="536.1" cy="605.0" rx="20.9" ry="11.6" fill="#fff" />
<ellipse cx="536.1" cy="605.3" rx="12.8" ry="7.3" fill="#fff" stroke-width="1.6" />
<g >
<path d="M522.9 534.7L521.8 529.9L521.8 547.9L522.9 552.7Z" fill="#fff" />
<path d="M550.0 529.9L548.9 534.7L548.9 552.7L550.0 547.9Z" fill="#fff" />
<path d="M515.0 538.1L511.0 533.8L511.0 551.8L515.0 556.1Z" fill="#fff" />
<path d="M560.8 533.8L556.8 538.1L556.8 556.1L560.8 551.8Z" fill="#fff" />
<path d="M509.6 542.9L503.2 539.6L503.2 557.6L509.6 560.9Z" fill="#fff" />
<path d="M568.6 539.6L562.2 542.9L562.2 560.9L568.6 557.6Z" fill="#fff" />
<path d="M507.3 548.4L499.4 546.6L499.4 564.6L507.3 566.4Z" fill="#fff" />
<path d="M572.4 546.6L564.5 548.4L564.5 566.4L572.4 564.6Z" fill="#fff" />
<path d="M507.3 550.2L507.3 548.4L507.3 566.4L507.3 568.2Z" fill="#fff" />
<path d="M564.5 548.4L564.5 550.2L564.5 568.2L564.5 566.4Z" fill="#fff" />
<path d="M500.0 553.9L499.4 552.0L499.4 570.0L500.0 571.9Z" fill="#fff" />
<path d="M572.4 552.0L571.8 553.9L571.8 571.9L572.4 570.0Z" fill="#fff" />
<path d="M508.5 554.1L500.0 553.9L500.0 571.9L508.5 572.1Z" fill="#fff" />
<path d="M571.8 553.9L563.3 554.1L563.3 572.1L571.8 571.9Z" fill="#fff" />
<path d="M563.3 554.1L562.2 555.7L562.2 573.7L563.3 572.1Z" fill="#fff" />
<path d="M509.6 555.7L508.5 554.1L508.5 572.1L509.6 573.7Z" fill="#fff" />
<path d="M558.7 559.1L556.8 560.5L556.8 578.5L558.7 577.1Z" fill="#fff" />
<path d="M515.0 560.5L513.1 559.1L513.1 577.1L515.0 578.5Z" fill="#fff" />
<path d="M568.6 559.0L566.9 560.6L566.9 578.6L568.6 577.0Z" fill="#fff" />
<path d="M504.9 560.6L503.2 559.0L503.2 577.0L504.9 578.6Z" fill="#fff" />
<path d="M566.9 560.6L558.7 559.1L558.7 577.1L566.9 578.6Z" fill="#fff" />
<path d="M513.1 559.1L504.9 560.6L504.9 578.6L513.1 577.1Z" fill="#fff" />
<path d="M551.5 563.0L548.9 563.9L548.9 581.9L551.5 581.0Z" fill="#fff" />
<path d="M522.9 563.9L520.3 563.0L520.3 581.0L522.9 581.9Z" fill="#fff" />
<path d="M558.3 566.0L551.5 563.0L551.5 581.0L558.3 584.0Z" fill="#fff" />
<path d="M520.3 563.0L513.5 566.0L513.5 584.0L520.3 581.0Z" fill="#fff" />
<path d="M542.3 565.2L539.4 565.5L539.4 583.5L542.3 583.2Z" fill="#fff" />
<path d="M532.4 565.5L529.5 565.2L529.5 583.2L532.4 583.5Z" fill="#fff" />
<path d="M560.8 564.8L558.3 566.0L558.3 584.0L560.8 582.8Z" fill="#fff" />
<path d="M513.5 566.0L511.0 564.8L511.0 582.8L513.5 584.0Z" fill="#fff" />
<path d="M546.9 569.4L542.3 565.2L542.3 583.2L546.9 587.4Z" fill="#fff" />
<path d="M529.5 565.2L524.9 569.4L524.9 587.4L529.5 583.2Z" fill="#fff" />
<path d="M539.4 565.5L537.6 570.3L537.6 588.3L539.4 583.5Z" fill="#fff" />
<path d="M534.2 570.3L532.4 565.5L532.4 583.5L534.2 588.3Z" fill="#fff" />
<path d="M550.0 568.7L546.9 569.4L546.9 587.4L550.0 586.7Z" fill="#fff" />
<path d="M524.9 569.4L521.8 568.7L521.8 586.7L524.9 587.4Z" fill="#fff" />
<path d="M537.6 570.3L534.2 570.3L534.2 588.3L537.6 588.3Z" fill="#fff" />
<path d="M563.3 554.1L562.2 555.7L568.6 559.0L566.9 560.6L558.7 559.1L556.8 560.5L560.8 564.8L558.3 566.0L551.5 563.0L548.9 563.9L550.0 568.7L546.9 569.4L542.3 565.2L539.4 565.5L537.6 570.3L534.2 570.3L532.4 565.5L529.5 565.2L524.9 569.4L521.8 568.7L522.9 563.9L520.3 563.0L513.5 566.0L511.0 564.8L515.0 560.5L513.1 559.1L504.9 560.6L503.2 559.0L509.6 555.7L508.5 554.1L500.0 553.9L499.4 552.0L507.3 550.2L507.3 548.4L499.4 546.6L500.0 544.7L508.5 544.5L509.6 542.9L503.2 539.6L504.9 538.0L513.1 539.5L515.0 538.1L511.0 533.8L513.5 532.6L520.3 535.6L522.9 534.7L521.8 529.9L524.9 529.2L529.5 533.4L532.4 533.1L534.2 528.3L537.6 528.3L539.4 533.1L542.3 533.4L546.9 529.2L550.0 529.9L548.9 534.7L551.5 535.6L558.3 532.6L560.8 533.8L556.8 538.1L558.7 539.5L566.9 538.0L568.6 539.6L562.2 542.9L563.3 544.5L571.8 544.7L572.4 546.6L564.5 548.4L564.5 550.2L572.4 552.0L571.8 553.9Z" fill="#fff" />
</g>
<ellipse cx="535.9" cy="549.6" rx="19.8" ry="11.6" fill="#fff" />
<ellipse cx="535.9" cy="549.9" rx="18.2" ry="10.5" />
<clipPath id="c13"><path d="M517.7 549.9A18.2 10.5 0 1 0 554.1 549.9A18.2 10.5 0 1 0 517.7 549.9Z"/></clipPath><g clip-path="url(#c13)">
<path d="M517.7 563.3A18.2 10.5 0 0 1 554.1 563.3" />
</g>
<path d="M518.3 505.1L518.3 516.6A17.7 10.0 0 0 0 553.7 516.6L553.7 505.1A17.7 10.0 0 0 0 518.3 505.1Z" fill="#fff" />
<ellipse cx="536.0" cy="505.1" rx="17.7" ry="10.0" fill="#fff" />
<ellipse cx="536.0" cy="505.3" rx="16.1" ry="9.0" />
<ellipse cx="536.0" cy="505.4" rx="13.9" ry="7.9" stroke-width="2.6" stroke-dasharray="2.6 1.5"/>
<ellipse cx="536.0" cy="505.5" rx="11.2" ry="6.7" stroke-width="1.5" />
<ellipse cx="536.0" cy="505.5" rx="10.4" ry="6.2" fill="#fff" />
<path d="M515.2 470.7L515.2 472.7A20.9 11.6 0 0 0 557.0 472.7L557.0 470.7A20.9 11.6 0 0 0 515.2 470.7Z" fill="#fff" />
<ellipse cx="536.1" cy="470.7" rx="20.9" ry="11.6" fill="#fff" />
<ellipse cx="536.1" cy="471.0" rx="12.8" ry="7.4" fill="#fff" stroke-width="1.6" />
<path d="M523.1 408.2L523.1 442.6A12.8 7.0 0 0 0 548.7 442.6L548.7 408.2A12.8 7.0 0 0 0 523.1 408.2Z" fill="#fff" />
<ellipse cx="535.9" cy="408.2" rx="12.8" ry="7.0" fill="#fff" />
<path d="M547.7 410.9A12.2 6.7 0 0 1 524.1 410.9" />
<ellipse cx="535.9" cy="407.9" rx="4.9" ry="2.8" />
<ellipse cx="545.0" cy="430.1" rx="1.4" ry="2.0" transform="rotate(25 545.0 430.1)"/>
<ellipse cx="545.0" cy="441.7" rx="1.4" ry="2.0" transform="rotate(25 545.0 441.7)"/>
<path d="M520.3 926.4L520.3 928.4A21.3 11.9 0 0 0 562.9 928.4L562.9 926.4A21.3 11.9 0 0 0 520.3 926.4Z" fill="#fff" />
<ellipse cx="541.6" cy="926.4" rx="21.3" ry="11.9" fill="#fff" />
<ellipse cx="541.6" cy="926.7" rx="13.0" ry="7.4" fill="#fff" stroke-width="1.6" />
<g >
<path d="M533.1 846.6L532.0 841.8L532.0 872.8L533.1 877.6Z" fill="#fff" />
<path d="M560.2 841.8L559.1 846.6L559.1 877.6L560.2 872.8Z" fill="#fff" />
<path d="M525.2 850.0L521.2 845.7L521.2 876.7L525.2 881.0Z" fill="#fff" />
<path d="M571.0 845.7L567.0 850.0L567.0 881.0L571.0 876.7Z" fill="#fff" />
<path d="M519.8 854.8L513.4 851.5L513.4 882.5L519.8 885.8Z" fill="#fff" />
<path d="M578.8 851.5L572.4 854.8L572.4 885.8L578.8 882.5Z" fill="#fff" />
<path d="M517.5 860.3L509.6 858.5L509.6 889.5L517.5 891.3Z" fill="#fff" />
<path d="M582.6 858.5L574.7 860.3L574.7 891.3L582.6 889.5Z" fill="#fff" />
<path d="M517.5 862.1L517.5 860.3L517.5 891.3L517.5 893.1Z" fill="#fff" />
<path d="M574.7 860.3L574.7 862.1L574.7 893.1L574.7 891.3Z" fill="#fff" />
<path d="M510.2 865.8L509.6 863.9L509.6 894.9L510.2 896.8Z" fill="#fff" />
<path d="M582.6 863.9L582.0 865.8L582.0 896.8L582.6 894.9Z" fill="#fff" />
<path d="M518.7 866.0L510.2 865.8L510.2 896.8L518.7 897.0Z" fill="#fff" />
<path d="M582.0 865.8L573.5 866.0L573.5 897.0L582.0 896.8Z" fill="#fff" />
<path d="M573.5 866.0L572.4 867.6L572.4 898.6L573.5 897.0Z" fill="#fff" />
<path d="M519.8 867.6L518.7 866.0L518.7 897.0L519.8 898.6Z" fill="#fff" />
<path d="M568.9 871.0L567.0 872.4L567.0 903.4L568.9 902.0Z" fill="#fff" />
<path d="M525.2 872.4L523.3 871.0L523.3 902.0L525.2 903.4Z" fill="#fff" />
<path d="M578.8 870.9L577.1 872.5L577.1 903.5L578.8 901.9Z" fill="#fff" />
<path d="M515.1 872.5L513.4 870.9L513.4 901.9L515.1 903.5Z" fill="#fff" />
<path d="M577.1 872.5L568.9 871.0L568.9 902.0L577.1 903.5Z" fill="#fff" />
<path d="M523.3 871.0L515.1 872.5L515.1 903.5L523.3 902.0Z" fill="#fff" />
<path d="M561.7 874.9L559.1 875.8L559.1 906.8L561.7 905.9Z" fill="#fff" />
<path d="M533.1 875.8L530.5 874.9L530.5 905.9L533.1 906.8Z" fill="#fff" />
<path d="M568.5 877.9L561.7 874.9L561.7 905.9L568.5 908.9Z" fill="#fff" />
<path d="M530.5 874.9L523.7 877.9L523.7 908.9L530.5 905.9Z" fill="#fff" />
<path d="M552.5 877.1L549.6 877.4L549.6 908.4L552.5 908.1Z" fill="#fff" />
<path d="M542.6 877.4L539.7 877.1L539.7 908.1L542.6 908.4Z" fill="#fff" />
<path d="M571.0 876.7L568.5 877.9L568.5 908.9L571.0 907.7Z" fill="#fff" />
<path d="M523.7 877.9L521.2 876.7L521.2 907.7L523.7 908.9Z" fill="#fff" />
<path d="M557.1 881.3L552.5 877.1L552.5 908.1L557.1 912.3Z" fill="#fff" />
<path d="M539.7 877.1L535.1 881.3L535.1 912.3L539.7 908.1Z" fill="#fff" />
<path d="M549.6 877.4L547.8 882.2L547.8 913.2L549.6 908.4Z" fill="#fff" />
<path d="M544.4 882.2L542.6 877.4L542.6 908.4L544.4 913.2Z" fill="#fff" />
<path d="M560.2 880.6L557.1 881.3L557.1 912.3L560.2 911.6Z" fill="#fff" />
<path d="M535.1 881.3L532.0 880.6L532.0 911.6L535.1 912.3Z" fill="#fff" />
<path d="M547.8 882.2L544.4 882.2L544.4 913.2L547.8 913.2Z" fill="#fff" />
<path d="M573.5 866.0L572.4 867.6L578.8 870.9L577.1 872.5L568.9 871.0L567.0 872.4L571.0 876.7L568.5 877.9L561.7 874.9L559.1 875.8L560.2 880.6L557.1 881.3L552.5 877.1L549.6 877.4L547.8 882.2L544.4 882.2L542.6 877.4L539.7 877.1L535.1 881.3L532.0 880.6L533.1 875.8L530.5 874.9L523.7 877.9L521.2 876.7L525.2 872.4L523.3 871.0L515.1 872.5L513.4 870.9L519.8 867.6L518.7 866.0L510.2 865.8L509.6 863.9L517.5 862.1L517.5 860.3L509.6 858.5L510.2 856.6L518.7 856.4L519.8 854.8L513.4 851.5L515.1 849.9L523.3 851.4L525.2 850.0L521.2 845.7L523.7 844.5L530.5 847.5L533.1 846.6L532.0 841.8L535.1 841.1L539.7 845.3L542.6 845.0L544.4 840.2L547.8 840.2L549.6 845.0L552.5 845.3L557.1 841.1L560.2 841.8L559.1 846.6L561.7 847.5L568.5 844.5L571.0 845.7L567.0 850.0L568.9 851.4L577.1 849.9L578.8 851.5L572.4 854.8L573.5 856.4L582.0 856.6L582.6 858.5L574.7 860.3L574.7 862.1L582.6 863.9L582.0 865.8Z" fill="#fff" />
</g>
<ellipse cx="546.1" cy="861.5" rx="19.8" ry="11.6" fill="#fff" />
<ellipse cx="546.1" cy="861.8" rx="18.2" ry="10.5" />
<path d="M528.2 806.0L528.2 827.0A17.8 10.0 0 0 0 563.8 827.0L563.8 806.0A17.8 10.0 0 0 0 528.2 806.0Z" fill="#fff" />
<ellipse cx="546.0" cy="806.0" rx="17.8" ry="10.0" fill="#fff" />
<ellipse cx="546.0" cy="806.2" rx="16.2" ry="9.0" />
<ellipse cx="546.0" cy="806.3" rx="14.0" ry="7.9" stroke-width="2.6" stroke-dasharray="2.6 1.5"/>
<ellipse cx="546.0" cy="806.4" rx="11.3" ry="6.7" stroke-width="1.5" />
<ellipse cx="546.0" cy="806.4" rx="10.5" ry="6.2" fill="#fff" />
<path d="M524.9 774.8L524.9 776.8A21.0 11.7 0 0 0 566.9 776.8L566.9 774.8A21.0 11.7 0 0 0 524.9 774.8Z" fill="#fff" />
<ellipse cx="545.9" cy="774.8" rx="21.0" ry="11.7" fill="#fff" />
<ellipse cx="545.9" cy="775.1" rx="12.8" ry="7.3" fill="#fff" stroke-width="1.6" />
<path d="M533.2 696.1L533.2 750.2A12.8 7.0 0 0 0 558.8 750.2L558.8 696.1A12.8 7.0 0 0 0 533.2 696.1Z" fill="#fff" />
<ellipse cx="546.0" cy="696.1" rx="12.8" ry="7.0" fill="#fff" />
<path d="M557.8 698.8A12.2 6.7 0 0 1 534.2 698.8" />
<ellipse cx="546.0" cy="695.8" rx="4.9" ry="2.8" />
<ellipse cx="554.8" cy="728.6" rx="1.4" ry="2.0" transform="rotate(25 554.8 728.6)"/>
<ellipse cx="554.8" cy="749.0" rx="1.4" ry="2.0" transform="rotate(25 554.8 749.0)"/>
<path d="M558.8 718.5L603.0 718.5" stroke-width="2" />
<path d="M535.5 622.5L535.5 643.5L508.5 643.5L508.5 609.5L463.5 609.5L463.5 630.0" />
<path d="M541.5 944.0L541.5 958.0L466.0 914.4L465.5 937.0" />
<path d="M410.5 859.0L410.5 916.5" />
<path d="M410.5 1729.0L410.5 1761.8L690.5 1599.7L690.5 451.5L941.5 308.5L941.5 371.0" />
<path d="M821.2 1561.3L821.2 1569.3A120.1 68.7 0 0 0 1061.4 1569.3L1061.4 1561.3A120.1 68.7 0 0 0 821.2 1561.3Z" fill="#fff" />
<ellipse cx="941.3" cy="1561.3" rx="120.1" ry="68.7" fill="#fff" />
<ellipse cx="941.3" cy="1560.8" rx="118.0" ry="67.4" />
<ellipse cx="941.3" cy="1560.3" rx="111.0" ry="63.5" />
<ellipse cx="941.3" cy="1560.3" rx="109.0" ry="62.3" />
<ellipse cx="941.3" cy="1559.8" rx="98.7" ry="56.5" />
<path d="M841.2 1463.3L841.2 1488.3A100.6 57.5 0 0 0 1042.4 1488.3L1042.4 1463.3A100.6 57.5 0 0 0 841.2 1463.3Z" fill="#fff" />
<ellipse cx="941.8" cy="1463.3" rx="100.6" ry="57.5" fill="#fff" />
<ellipse cx="941.8" cy="1463.9" rx="96.0" ry="54.6" />
<ellipse cx="941.8" cy="1464.2" rx="93.6" ry="53.2" />
<ellipse cx="941.8" cy="1465.4" rx="84.3" ry="47.5" />
<ellipse cx="941.8" cy="1472.0" rx="64.4" ry="35.4" />
<ellipse cx="941.8" cy="1474.5" rx="60.1" ry="32.0" />
<ellipse cx="941.8" cy="1476.1" rx="44.7" ry="22.9" fill="#fff" />
<clipPath id="c14"><path d="M897.1 1476.1A44.7 22.9 0 1 0 986.5 1476.1A44.7 22.9 0 1 0 897.1 1476.1Z"/></clipPath><g clip-path="url(#c14)">
<path d="M897.1 1479.0A44.7 22.9 0 0 1 986.5 1479.0" />
<path d="M897.1 1484.5A44.7 22.9 0 0 1 986.5 1484.5" />
</g>
<ellipse cx="941.7" cy="1358.3" rx="44.2" ry="25.5" stroke-width="2.4" />
<path d="M856.4 1238.9L856.4 1272.9A85.3 48.8 0 0 0 1027.0 1272.9L1027.0 1238.9A85.3 48.8 0 0 0 856.4 1238.9Z" fill="#fff" />
<ellipse cx="941.7" cy="1238.9" rx="85.3" ry="48.8" fill="#fff" />
<ellipse cx="941.7" cy="1239.2" rx="78.4" ry="44.8" />
<ellipse cx="941.7" cy="1239.4" rx="75.5" ry="43.2" />
<clipPath id="c15"><path d="M866.2 1239.4A75.5 43.2 0 1 0 1017.2 1239.4A75.5 43.2 0 1 0 866.2 1239.4Z"/></clipPath><g clip-path="url(#c15)">
<circle cx="931.0" cy="1205.0" r="9.3" fill="#fff"/>
<circle cx="952.4" cy="1205.0" r="9.3" fill="#fff"/>
<circle cx="910.6" cy="1208.8" r="9.3" fill="#fff"/>
<circle cx="972.8" cy="1208.8" r="9.3" fill="#fff"/>
<circle cx="893.3" cy="1216.0" r="9.3" fill="#fff"/>
<circle cx="990.1" cy="1216.0" r="9.3" fill="#fff"/>
<circle cx="880.7" cy="1225.9" r="9.3" fill="#fff"/>
<circle cx="1002.7" cy="1225.9" r="9.3" fill="#fff"/>
<circle cx="874.0" cy="1237.6" r="9.3" fill="#fff"/>
<circle cx="1009.4" cy="1237.6" r="9.3" fill="#fff"/>
<circle cx="1009.4" cy="1249.8" r="9.3" fill="#fff"/>
<circle cx="874.0" cy="1249.8" r="9.3" fill="#fff"/>
<circle cx="1002.7" cy="1261.5" r="9.3" fill="#fff"/>
<circle cx="880.7" cy="1261.5" r="9.3" fill="#fff"/>
<circle cx="990.1" cy="1271.4" r="9.3" fill="#fff"/>
<circle cx="893.3" cy="1271.4" r="9.3" fill="#fff"/>
<circle cx="972.8" cy="1278.6" r="9.3" fill="#fff"/>
<circle cx="910.6" cy="1278.6" r="9.3" fill="#fff"/>
<circle cx="952.4" cy="1282.4" r="9.3" fill="#fff"/>
<circle cx="931.0" cy="1282.4" r="9.3" fill="#fff"/>
</g>
<ellipse cx="941.7" cy="1239.9" rx="58.6" ry="34.1" fill="#fff" />
<ellipse cx="941.7" cy="1239.6" rx="51.7" ry="30.0" fill="#fff" />
<clipPath id="c16"><path d="M890.0 1239.6A51.7 30 0 1 0 993.4 1239.6A51.7 30 0 1 0 890.0 1239.6Z"/></clipPath><g clip-path="url(#c16)">
<path d="M890.0 1271.9A51.7 30.0 0 0 1 993.4 1271.9" />
</g>
<path d="M798.9 1020.9L798.9 1090.0A141.4 80.9 0 0 0 1081.7 1090.0L1081.7 1020.9A141.4 80.9 0 0 0 798.9 1020.9Z" fill="#fff" />
<path d="M744.0 1000.6L744.0 1020.9A196.3 112.3 0 0 0 1136.6 1020.9L1136.6 1000.6A196.3 112.3 0 0 0 744.0 1000.6Z" fill="#fff" />
<ellipse cx="940.3" cy="1000.6" rx="196.3" ry="112.3" fill="#fff" />
<path d="M1133.9 1011.9A194.3 111.2 0 0 1 746.7 1011.9" />
<ellipse cx="1113.1" cy="999.4" rx="15.0" ry="8.8" fill="#fff" />
<path d="M1119.3 1006.7A12.5 8.2 0 0 1 1106.8 1006.7" stroke-width="1.6" />
<ellipse cx="1089.9" cy="1049.2" rx="15.0" ry="8.8" fill="#fff" />
<path d="M1096.2 1056.5A12.5 8.2 0 0 1 1083.7 1056.5" stroke-width="1.6" />
<ellipse cx="1026.7" cy="1085.7" rx="15.0" ry="8.8" fill="#fff" />
<path d="M1033.0 1093.0A12.5 8.2 0 0 1 1020.5 1093.0" stroke-width="1.6" />
<ellipse cx="940.3" cy="1099.0" rx="15.0" ry="8.8" fill="#fff" />
<path d="M946.5 1106.3A12.5 8.2 0 0 1 934.0 1106.3" stroke-width="1.6" />
<ellipse cx="853.9" cy="1085.7" rx="15.0" ry="8.8" fill="#fff" />
<path d="M860.1 1093.0A12.5 8.2 0 0 1 847.6 1093.0" stroke-width="1.6" />
<ellipse cx="790.7" cy="1049.2" rx="15.0" ry="8.8" fill="#fff" />
<path d="M796.9 1056.5A12.5 8.2 0 0 1 784.4 1056.5" stroke-width="1.6" />
<ellipse cx="767.5" cy="999.4" rx="15.0" ry="8.8" fill="#fff" />
<path d="M773.8 1006.7A12.5 8.2 0 0 1 761.2 1006.7" stroke-width="1.6" />
<ellipse cx="790.7" cy="949.6" rx="15.0" ry="8.8" fill="#fff" />
<path d="M796.9 956.9A12.5 8.2 0 0 1 784.4 956.9" stroke-width="1.6" />
<ellipse cx="853.9" cy="913.1" rx="15.0" ry="8.8" fill="#fff" />
<path d="M860.1 920.4A12.5 8.2 0 0 1 847.6 920.4" stroke-width="1.6" />
<ellipse cx="940.3" cy="899.8" rx="15.0" ry="8.8" fill="#fff" />
<path d="M946.5 907.1A12.5 8.2 0 0 1 934.0 907.1" stroke-width="1.6" />
<ellipse cx="1026.7" cy="913.1" rx="15.0" ry="8.8" fill="#fff" />
<path d="M1033.0 920.4A12.5 8.2 0 0 1 1020.5 920.4" stroke-width="1.6" />
<ellipse cx="1089.9" cy="949.6" rx="15.0" ry="8.8" fill="#fff" />
<path d="M1096.2 956.9A12.5 8.2 0 0 1 1083.7 956.9" stroke-width="1.6" />
<path d="M792.3 986.2L792.3 996.2A148.0 84.7 0 0 0 1088.3 996.2L1088.3 986.2A148.0 84.7 0 0 0 792.3 986.2Z" fill="#fff" />
<path d="M1088.3 986.2A148.0 84.7 0 0 1 792.3 986.2" />
<path d="M1088.9 989.9A148.6 85.0 0 0 1 791.7 989.9" />
<path d="M814 933L804.7 962L804.7 970.8A135.6 77.5 0 0 0 1075.9 970.8L1075.9 962L1066.6 933Z" fill="#fff" />
<path d="M804.7 962.0L792.3 986.2" />
<path d="M1075.9 962.0L1088.3 986.2" />
<path d="M1067.0 916.7A126.7 72.5 0 0 1 813.6 916.7" />
<path d="M771.5 831.5L771.5 867.5A168.8 96.0 0 0 0 1109.1 867.5L1109.1 831.5A168.8 96.0 0 0 0 771.5 831.5Z" fill="#fff" />
<ellipse cx="940.3" cy="831.5" rx="168.8" ry="96.0" fill="#fff" />
<ellipse cx="940.3" cy="829.0" rx="136.5" ry="78.8" fill="#fff" />
<ellipse cx="940.3" cy="829.5" rx="133.0" ry="76.6" />
<ellipse cx="940.3" cy="830.0" rx="129.3" ry="73.6" />
<clipPath id="c17"><path d="M811.0 830A129.3 73.6 0 1 0 1069.6 830A129.3 73.6 0 1 0 811.0 830Z"/></clipPath><g clip-path="url(#c17)">
<path d="M853.4 896.3A86.9 49.7 0 0 1 1027.2 896.3" />
<path d="M865.2 897.1A75.1 43.0 0 0 1 1015.4 897.1" />
<path d="M865.2 899.1A75.1 43.0 0 0 1 1015.4 899.1" />
<path d="M865.2 901.1A75.1 43.0 0 0 1 1015.4 901.1" />
<path d="M865.2 923.1A75.1 43.0 0 0 1 1015.4 923.1" />
<path d="M844.3 888.5L846.5 885.3" />
<path d="M1036.3 888.5L1034.1 885.3" />
<path d="M846.6 889.1L848.8 885.9" />
<path d="M1034.0 889.1L1031.8 885.9" />
<path d="M848.9 889.7L851.1 886.5" />
<path d="M1031.7 889.7L1029.5 886.5" />
<path d="M851.2 890.3L853.4 887.1" />
<path d="M1029.4 890.3L1027.2 887.1" />
<path d="M853.4 890.9L855.6 887.7" />
<path d="M1027.2 890.9L1025.0 887.7" />
<path d="M855.7 891.5L857.9 888.3" />
<path d="M1024.9 891.5L1022.7 888.3" />
<path d="M858.0 892.1L860.2 888.9" />
<path d="M1022.6 892.1L1020.4 888.9" />
<path d="M860.3 892.7L862.5 889.5" />
<path d="M1020.3 892.7L1018.1 889.5" />
</g>
<ellipse cx="1092.3" cy="833.0" rx="10.4" ry="6.0" fill="#fff" />
<clipPath id="c18"><path d="M1081.9 833.0A10.4 6 0 1 0 1102.7 833.0A10.4 6 0 1 0 1081.9 833.0Z"/></clipPath><g clip-path="url(#c18)">
<path d="M1081.9 834.8A10.4 6.0 0 0 1 1102.7 834.8" />
<path d="M1081.9 837.0A10.4 6.0 0 0 1 1102.7 837.0" />
<path d="M1081.9 839.2A10.4 6.0 0 0 1 1102.7 839.2" />
</g>
<ellipse cx="1071.9" cy="877.1" rx="10.4" ry="6.0" fill="#fff" />
<clipPath id="c19"><path d="M1061.5 877.1A10.4 6 0 1 0 1082.3 877.1A10.4 6 0 1 0 1061.5 877.1Z"/></clipPath><g clip-path="url(#c19)">
<path d="M1061.6 878.9A10.4 6.0 0 0 1 1082.3 878.9" />
<path d="M1061.6 881.1A10.4 6.0 0 0 1 1082.3 881.1" />
<path d="M1061.6 883.3A10.4 6.0 0 0 1 1082.3 883.3" />
</g>
<ellipse cx="1016.3" cy="909.4" rx="10.4" ry="6.0" fill="#fff" />
<clipPath id="c20"><path d="M1005.9 909.4A10.4 6 0 1 0 1026.7 909.4A10.4 6 0 1 0 1005.9 909.4Z"/></clipPath><g clip-path="url(#c20)">
<path d="M1005.9 911.2A10.4 6.0 0 0 1 1026.7 911.2" />
<path d="M1005.9 913.4A10.4 6.0 0 0 1 1026.7 913.4" />
<path d="M1005.9 915.6A10.4 6.0 0 0 1 1026.7 915.6" />
</g>
<ellipse cx="940.3" cy="921.2" rx="10.4" ry="6.0" fill="#fff" />
<clipPath id="c21"><path d="M929.9 921.2A10.4 6 0 1 0 950.7 921.2A10.4 6 0 1 0 929.9 921.2Z"/></clipPath><g clip-path="url(#c21)">
<path d="M929.9 923.0A10.4 6.0 0 0 1 950.7 923.0" />
<path d="M929.9 925.2A10.4 6.0 0 0 1 950.7 925.2" />
<path d="M929.9 927.4A10.4 6.0 0 0 1 950.7 927.4" />
</g>
<ellipse cx="864.3" cy="909.4" rx="10.4" ry="6.0" fill="#fff" />
<clipPath id="c22"><path d="M853.9 909.4A10.4 6 0 1 0 874.7 909.4A10.4 6 0 1 0 853.9 909.4Z"/></clipPath><g clip-path="url(#c22)">
<path d="M853.9 911.2A10.4 6.0 0 0 1 874.7 911.2" />
<path d="M853.9 913.4A10.4 6.0 0 0 1 874.7 913.4" />
<path d="M853.9 915.6A10.4 6.0 0 0 1 874.7 915.6" />
</g>
<ellipse cx="808.7" cy="877.1" rx="10.4" ry="6.0" fill="#fff" />
<clipPath id="c23"><path d="M798.3 877.1A10.4 6 0 1 0 819.1 877.1A10.4 6 0 1 0 798.3 877.1Z"/></clipPath><g clip-path="url(#c23)">
<path d="M798.3 878.9A10.4 6.0 0 0 1 819.0 878.9" />
<path d="M798.3 881.1A10.4 6.0 0 0 1 819.0 881.1" />
<path d="M798.3 883.3A10.4 6.0 0 0 1 819.0 883.3" />
</g>
<ellipse cx="788.3" cy="833.0" rx="10.4" ry="6.0" fill="#fff" />
<clipPath id="c24"><path d="M777.9 833.0A10.4 6 0 1 0 798.7 833.0A10.4 6 0 1 0 777.9 833.0Z"/></clipPath><g clip-path="url(#c24)">
<path d="M777.9 834.8A10.4 6.0 0 0 1 798.7 834.8" />
<path d="M777.9 837.0A10.4 6.0 0 0 1 798.7 837.0" />
<path d="M777.9 839.2A10.4 6.0 0 0 1 798.7 839.2" />
</g>
<ellipse cx="808.7" cy="788.9" rx="10.4" ry="6.0" fill="#fff" />
<clipPath id="c25"><path d="M798.3 788.9A10.4 6 0 1 0 819.1 788.9A10.4 6 0 1 0 798.3 788.9Z"/></clipPath><g clip-path="url(#c25)">
<path d="M798.3 790.7A10.4 6.0 0 0 1 819.0 790.7" />
<path d="M798.3 792.9A10.4 6.0 0 0 1 819.0 792.9" />
<path d="M798.3 795.1A10.4 6.0 0 0 1 819.0 795.1" />
</g>
<ellipse cx="864.3" cy="756.6" rx="10.4" ry="6.0" fill="#fff" />
<clipPath id="c26"><path d="M853.9 756.6A10.4 6 0 1 0 874.7 756.6A10.4 6 0 1 0 853.9 756.6Z"/></clipPath><g clip-path="url(#c26)">
<path d="M853.9 758.4A10.4 6.0 0 0 1 874.7 758.4" />
<path d="M853.9 760.6A10.4 6.0 0 0 1 874.7 760.6" />
<path d="M853.9 762.8A10.4 6.0 0 0 1 874.7 762.8" />
</g>
<ellipse cx="940.3" cy="744.8" rx="10.4" ry="6.0" fill="#fff" />
<clipPath id="c27"><path d="M929.9 744.8A10.4 6 0 1 0 950.7 744.8A10.4 6 0 1 0 929.9 744.8Z"/></clipPath><g clip-path="url(#c27)">
<path d="M929.9 746.6A10.4 6.0 0 0 1 950.7 746.6" />
<path d="M929.9 748.8A10.4 6.0 0 0 1 950.7 748.8" />
<path d="M929.9 751.0A10.4 6.0 0 0 1 950.7 751.0" />
</g>
<ellipse cx="1016.3" cy="756.6" rx="10.4" ry="6.0" fill="#fff" />
<clipPath id="c28"><path d="M1005.9 756.6A10.4 6 0 1 0 1026.7 756.6A10.4 6 0 1 0 1005.9 756.6Z"/></clipPath><g clip-path="url(#c28)">
<path d="M1005.9 758.4A10.4 6.0 0 0 1 1026.7 758.4" />
<path d="M1005.9 760.6A10.4 6.0 0 0 1 1026.7 760.6" />
<path d="M1005.9 762.8A10.4 6.0 0 0 1 1026.7 762.8" />
</g>
<ellipse cx="1071.9" cy="788.9" rx="10.4" ry="6.0" fill="#fff" />
<clipPath id="c29"><path d="M1061.5 788.9A10.4 6 0 1 0 1082.3 788.9A10.4 6 0 1 0 1061.5 788.9Z"/></clipPath><g clip-path="url(#c29)">
<path d="M1061.6 790.7A10.4 6.0 0 0 1 1082.3 790.7" />
<path d="M1061.6 792.9A10.4 6.0 0 0 1 1082.3 792.9" />
<path d="M1061.6 795.1A10.4 6.0 0 0 1 1082.3 795.1" />
</g>
<ellipse cx="997.4" cy="751.8" rx="5.6" ry="3.3" fill="#fff" />
<ellipse cx="884.9" cy="914.9" rx="6.5" ry="3.9" fill="#fff" />
<path d="M1031.5 912.3A9.0 13.0 0 1 1 1043.8 894.5" stroke-dasharray="1 1.6"/>
<path d="M1033.2 908.4A5.5 8.5 0 1 1 1040.8 896.8" stroke-dasharray="1 1.6"/>
<path d="M1049.5 910.0L1049.5 922.0" stroke-dasharray="1 1.6"/>
<path d="M772.6 539.4L772.6 554.5A169.1 96.5 0 0 0 1110.8 554.5L1110.8 539.4A169.1 96.5 0 0 0 772.6 539.4Z" fill="#fff" />
<ellipse cx="941.7" cy="539.4" rx="169.1" ry="96.5" fill="#fff" />
<path d="M802.7 486.3L802.7 536.7A139.0 79.5 0 0 0 1080.7 536.7L1080.7 486.3A139.0 79.5 0 0 0 802.7 486.3Z" fill="#fff" />
<path d="M1080.7 486.3A139.0 79.5 0 0 1 802.7 486.3" />
<path d="M799.4 449.3L799.4 486.3A142.3 81.2 0 0 0 1084.0 486.3L1084.0 449.3A142.3 81.2 0 0 0 799.4 449.3Z" fill="#fff" />
<ellipse cx="941.7" cy="449.3" rx="142.3" ry="81.2" fill="#fff" />
<path d="M1083.6 457.0A142.0 80.9 0 0 1 799.8 457.0" />
<path d="M1084.0 458.4A142.3 81.2 0 0 1 799.4 458.4" />
<ellipse cx="941.7" cy="449.3" rx="139.5" ry="79.8" />
<ellipse cx="1095.2" cy="538.3" rx="10.5" ry="6.3" fill="#fff" />
<ellipse cx="1095.2" cy="538.7" rx="6.8" ry="4.0" />
<ellipse cx="1074.6" cy="582.5" rx="10.5" ry="6.3" fill="#fff" />
<ellipse cx="1074.6" cy="582.9" rx="6.8" ry="4.0" />
<ellipse cx="1018.5" cy="614.9" rx="10.5" ry="6.3" fill="#fff" />
<ellipse cx="1018.5" cy="615.3" rx="6.8" ry="4.0" />
<ellipse cx="941.7" cy="626.7" rx="10.5" ry="6.3" fill="#fff" />
<ellipse cx="941.7" cy="627.1" rx="6.8" ry="4.0" />
<ellipse cx="865.0" cy="614.9" rx="10.5" ry="6.3" fill="#fff" />
<ellipse cx="865.0" cy="615.3" rx="6.8" ry="4.0" />
<ellipse cx="808.8" cy="582.5" rx="10.5" ry="6.3" fill="#fff" />
<ellipse cx="808.8" cy="582.9" rx="6.8" ry="4.0" />
<ellipse cx="788.2" cy="538.3" rx="10.5" ry="6.3" fill="#fff" />
<ellipse cx="788.2" cy="538.7" rx="6.8" ry="4.0" />
<ellipse cx="941.7" cy="375.0" rx="8.8" ry="5.6" fill="#fff" />
<ellipse cx="941.7" cy="375.6" rx="7.0" ry="4.2" />
<ellipse cx="867.2" cy="389.5" rx="8.8" ry="5.6" fill="#fff" />
<ellipse cx="867.2" cy="390.1" rx="7.0" ry="4.2" />
<ellipse cx="825.3" cy="420.0" rx="8.8" ry="5.6" fill="#fff" />
<ellipse cx="825.3" cy="420.6" rx="7.0" ry="4.2" />
<ellipse cx="825.3" cy="476.9" rx="8.8" ry="5.6" fill="#fff" />
<ellipse cx="825.3" cy="477.5" rx="7.0" ry="4.2" />
<ellipse cx="867.2" cy="507.9" rx="8.8" ry="5.6" fill="#fff" />
<ellipse cx="867.2" cy="508.5" rx="7.0" ry="4.2" />
<ellipse cx="941.7" cy="522.4" rx="8.8" ry="5.6" fill="#fff" />
<ellipse cx="941.7" cy="523.0" rx="7.0" ry="4.2" />
<ellipse cx="1016.2" cy="507.9" rx="8.8" ry="5.6" fill="#fff" />
<ellipse cx="1016.2" cy="508.5" rx="7.0" ry="4.2" />
<ellipse cx="1058.1" cy="476.9" rx="8.8" ry="5.6" fill="#fff" />
<ellipse cx="1058.1" cy="477.5" rx="7.0" ry="4.2" />
<ellipse cx="1058.1" cy="420.0" rx="8.8" ry="5.6" fill="#fff" />
<ellipse cx="1058.1" cy="420.6" rx="7.0" ry="4.2" />
<ellipse cx="1016.2" cy="389.5" rx="8.8" ry="5.6" fill="#fff" />
<ellipse cx="1016.2" cy="390.1" rx="7.0" ry="4.2" />
<g >
<path d="M1056.9 452.0L1056.5 455.2L1045.5 456.2L1045.1 458.0L1055.3 460.6L1054.2 463.7L1043.0 463.8L1042.2 465.6L1051.7 468.9L1050.0 471.9L1038.8 471.3L1037.6 472.9L1046.3 476.9L1043.8 479.8L1033.0 478.3L1031.4 479.9L1039.1 484.5L1036.0 487.1L1025.6 484.8L1023.6 486.3L1030.2 491.4L1026.5 493.8L1016.7 490.8L1014.5 492.0L1019.8 497.6L1015.6 499.7L1006.6 496.0L1004.1 497.1L1008.1 503.0L1003.4 504.8L995.3 500.4L992.6 501.3L995.2 507.5L990.2 508.9L983.1 504.0L980.2 504.7L981.4 511.0L976.1 512.0L970.3 506.6L967.2 507.1L966.9 513.4L961.4 514.0L956.9 508.2L953.8 508.5L952.0 514.8L946.5 515.0L943.3 508.9L940.1 508.9L936.9 515.0L931.4 514.8L929.6 508.5L926.5 508.2L922.0 514.0L916.5 513.4L916.2 507.1L913.1 506.6L907.3 512.0L902.0 511.0L903.2 504.7L900.3 504.0L893.2 508.9L888.2 507.5L890.8 501.3L888.1 500.4L880.0 504.8L875.3 503.0L879.3 497.1L876.8 496.0L867.8 499.7L863.6 497.6L868.9 492.0L866.7 490.8L856.9 493.8L853.2 491.4L859.8 486.3L857.8 484.8L847.4 487.1L844.3 484.5L852.0 479.9L850.4 478.3L839.6 479.8L837.1 476.9L845.8 472.9L844.6 471.3L833.4 471.9L831.7 468.9L841.2 465.6L840.4 463.8L829.2 463.7L828.1 460.6L838.3 458.0L837.9 456.2L826.9 455.2L826.5 452.0L837.2 450.2L837.2 448.4L826.5 446.6L826.9 443.4L837.9 442.4L838.3 440.6L828.1 438.0L829.2 434.9L840.4 434.8L841.2 433.0L831.7 429.7L833.4 426.7L844.6 427.3L845.8 425.7L837.1 421.7L839.6 418.8L850.4 420.3L852.0 418.7L844.3 414.1L847.4 411.5L857.8 413.8L859.8 412.3L853.2 407.2L856.9 404.8L866.7 407.8L868.9 406.6L863.6 401.0L867.8 398.9L876.8 402.6L879.3 401.5L875.3 395.6L880.0 393.8L888.1 398.2L890.8 397.3L888.2 391.1L893.2 389.7L900.3 394.6L903.2 393.9L902.0 387.6L907.3 386.6L913.1 392.0L916.2 391.5L916.5 385.2L922.0 384.6L926.5 390.4L929.6 390.1L931.4 383.8L936.9 383.6L940.1 389.7L943.3 389.7L946.5 383.6L952.0 383.8L953.8 390.1L956.9 390.4L961.4 384.6L966.9 385.2L967.2 391.5L970.3 392.0L976.1 386.6L981.4 387.6L980.2 393.9L983.1 394.6L990.2 389.7L995.2 391.1L992.6 397.3L995.3 398.2L1003.4 393.8L1008.1 395.6L1004.1 401.5L1006.6 402.6L1015.6 398.9L1019.8 401.0L1014.5 406.6L1016.7 407.8L1026.5 404.8L1030.2 407.2L1023.6 412.3L1025.6 413.8L1036.0 411.5L1039.1 414.1L1031.4 418.7L1033.0 420.3L1043.8 418.8L1046.3 421.7L1037.6 425.7L1038.8 427.3L1050.0 426.7L1051.7 429.7L1042.2 433.0L1043.0 434.8L1054.2 434.9L1055.3 438.0L1045.1 440.6L1045.5 442.4L1056.5 443.4L1056.9 446.6L1046.2 448.4L1046.2 450.2Z" fill="#fff" stroke="none"/>
<clipPath id="c30"><path d="M1056.9 452.0L1056.5 455.2L1045.5 456.2L1045.1 458.0L1055.3 460.6L1054.2 463.7L1043.0 463.8L1042.2 465.6L1051.7 468.9L1050.0 471.9L1038.8 471.3L1037.6 472.9L1046.3 476.9L1043.8 479.8L1033.0 478.3L1031.4 479.9L1039.1 484.5L1036.0 487.1L1025.6 484.8L1023.6 486.3L1030.2 491.4L1026.5 493.8L1016.7 490.8L1014.5 492.0L1019.8 497.6L1015.6 499.7L1006.6 496.0L1004.1 497.1L1008.1 503.0L1003.4 504.8L995.3 500.4L992.6 501.3L995.2 507.5L990.2 508.9L983.1 504.0L980.2 504.7L981.4 511.0L976.1 512.0L970.3 506.6L967.2 507.1L966.9 513.4L961.4 514.0L956.9 508.2L953.8 508.5L952.0 514.8L946.5 515.0L943.3 508.9L940.1 508.9L936.9 515.0L931.4 514.8L929.6 508.5L926.5 508.2L922.0 514.0L916.5 513.4L916.2 507.1L913.1 506.6L907.3 512.0L902.0 511.0L903.2 504.7L900.3 504.0L893.2 508.9L888.2 507.5L890.8 501.3L888.1 500.4L880.0 504.8L875.3 503.0L879.3 497.1L876.8 496.0L867.8 499.7L863.6 497.6L868.9 492.0L866.7 490.8L856.9 493.8L853.2 491.4L859.8 486.3L857.8 484.8L847.4 487.1L844.3 484.5L852.0 479.9L850.4 478.3L839.6 479.8L837.1 476.9L845.8 472.9L844.6 471.3L833.4 471.9L831.7 468.9L841.2 465.6L840.4 463.8L829.2 463.7L828.1 460.6L838.3 458.0L837.9 456.2L826.9 455.2L826.5 452.0L837.2 450.2L837.2 448.4L826.5 446.6L826.9 443.4L837.9 442.4L838.3 440.6L828.1 438.0L829.2 434.9L840.4 434.8L841.2 433.0L831.7 429.7L833.4 426.7L844.6 427.3L845.8 425.7L837.1 421.7L839.6 418.8L850.4 420.3L852.0 418.7L844.3 414.1L847.4 411.5L857.8 413.8L859.8 412.3L853.2 407.2L856.9 404.8L866.7 407.8L868.9 406.6L863.6 401.0L867.8 398.9L876.8 402.6L879.3 401.5L875.3 395.6L880.0 393.8L888.1 398.2L890.8 397.3L888.2 391.1L893.2 389.7L900.3 394.6L903.2 393.9L902.0 387.6L907.3 386.6L913.1 392.0L916.2 391.5L916.5 385.2L922.0 384.6L926.5 390.4L929.6 390.1L931.4 383.8L936.9 383.6L940.1 389.7L943.3 389.7L946.5 383.6L952.0 383.8L953.8 390.1L956.9 390.4L961.4 384.6L966.9 385.2L967.2 391.5L970.3 392.0L976.1 386.6L981.4 387.6L980.2 393.9L983.1 394.6L990.2 389.7L995.2 391.1L992.6 397.3L995.3 398.2L1003.4 393.8L1008.1 395.6L1004.1 401.5L1006.6 402.6L1015.6 398.9L1019.8 401.0L1014.5 406.6L1016.7 407.8L1026.5 404.8L1030.2 407.2L1023.6 412.3L1025.6 413.8L1036.0 411.5L1039.1 414.1L1031.4 418.7L1033.0 420.3L1043.8 418.8L1046.3 421.7L1037.6 425.7L1038.8 427.3L1050.0 426.7L1051.7 429.7L1042.2 433.0L1043.0 434.8L1054.2 434.9L1055.3 438.0L1045.1 440.6L1045.5 442.4L1056.5 443.4L1056.9 446.6L1046.2 448.4L1046.2 450.2Z"/></clipPath><g clip-path="url(#c30)">
<path d="M931.4 383.8L936.9 383.6L936.9 472.6L931.4 472.8Z" fill="#fff" />
<path d="M946.5 383.6L952.0 383.8L952.0 472.8L946.5 472.6Z" fill="#fff" />
<path d="M916.5 385.2L922.0 384.6L922.0 473.6L916.5 474.2Z" fill="#fff" />
<path d="M961.4 384.6L966.9 385.2L966.9 474.2L961.4 473.6Z" fill="#fff" />
<path d="M936.9 383.6L940.1 389.7L940.1 478.7L936.9 472.6Z" fill="#fff" />
<path d="M943.3 389.7L946.5 383.6L946.5 472.6L943.3 478.7Z" fill="#fff" />
<path d="M929.6 390.1L931.4 383.8L931.4 472.8L929.6 479.1Z" fill="#fff" />
<path d="M952.0 383.8L953.8 390.1L953.8 479.1L952.0 472.8Z" fill="#fff" />
<path d="M976.1 386.6L981.4 387.6L981.4 476.6L976.1 475.6Z" fill="#fff" />
<path d="M902.0 387.6L907.3 386.6L907.3 475.6L902.0 476.6Z" fill="#fff" />
<path d="M956.9 390.4L961.4 384.6L961.4 473.6L956.9 479.4Z" fill="#fff" />
<path d="M922.0 384.6L926.5 390.4L926.5 479.4L922.0 473.6Z" fill="#fff" />
<path d="M916.2 391.5L916.5 385.2L916.5 474.2L916.2 480.5Z" fill="#fff" />
<path d="M966.9 385.2L967.2 391.5L967.2 480.5L966.9 474.2Z" fill="#fff" />
<path d="M970.3 392.0L976.1 386.6L976.1 475.6L970.3 481.0Z" fill="#fff" />
<path d="M907.3 386.6L913.1 392.0L913.1 481.0L907.3 475.6Z" fill="#fff" />
<path d="M940.1 389.7L943.3 389.7L943.3 478.7L940.1 478.7Z" fill="#fff" />
<path d="M953.8 390.1L956.9 390.4L956.9 479.4L953.8 479.1Z" fill="#fff" />
<path d="M926.5 390.4L929.6 390.1L929.6 479.1L926.5 479.4Z" fill="#fff" />
<path d="M888.2 391.1L893.2 389.7L893.2 478.7L888.2 480.1Z" fill="#fff" />
<path d="M990.2 389.7L995.2 391.1L995.2 480.1L990.2 478.7Z" fill="#fff" />
<path d="M913.1 392.0L916.2 391.5L916.2 480.5L913.1 481.0Z" fill="#fff" />
<path d="M967.2 391.5L970.3 392.0L970.3 481.0L967.2 480.5Z" fill="#fff" />
<path d="M893.2 389.7L900.3 394.6L900.3 483.6L893.2 478.7Z" fill="#fff" />
<path d="M983.1 394.6L990.2 389.7L990.2 478.7L983.1 483.6Z" fill="#fff" />
<path d="M900.3 394.6L903.2 393.9L903.2 482.9L900.3 483.6Z" fill="#fff" />
<path d="M980.2 393.9L983.1 394.6L983.1 483.6L980.2 482.9Z" fill="#fff" />
<path d="M875.3 395.6L880.0 393.8L880.0 482.8L875.3 484.6Z" fill="#fff" />
<path d="M1003.4 393.8L1008.1 395.6L1008.1 484.6L1003.4 482.8Z" fill="#fff" />
<path d="M880.0 393.8L888.1 398.2L888.1 487.2L880.0 482.8Z" fill="#fff" />
<path d="M995.3 398.2L1003.4 393.8L1003.4 482.8L995.3 487.2Z" fill="#fff" />
<path d="M888.1 398.2L890.8 397.3L890.8 486.3L888.1 487.2Z" fill="#fff" />
<path d="M992.6 397.3L995.3 398.2L995.3 487.2L992.6 486.3Z" fill="#fff" />
<path d="M1015.6 398.9L1019.8 401.0L1019.8 490.0L1015.6 487.9Z" fill="#fff" />
<path d="M863.6 401.0L867.8 398.9L867.8 487.9L863.6 490.0Z" fill="#fff" />
<path d="M867.8 398.9L876.8 402.6L876.8 491.6L867.8 487.9Z" fill="#fff" />
<path d="M1006.6 402.6L1015.6 398.9L1015.6 487.9L1006.6 491.6Z" fill="#fff" />
<path d="M1004.1 401.5L1006.6 402.6L1006.6 491.6L1004.1 490.5Z" fill="#fff" />
<path d="M876.8 402.6L879.3 401.5L879.3 490.5L876.8 491.6Z" fill="#fff" />
<path d="M853.2 407.2L856.9 404.8L856.9 493.8L853.2 496.2Z" fill="#fff" />
<path d="M1026.5 404.8L1030.2 407.2L1030.2 496.2L1026.5 493.8Z" fill="#fff" />
<path d="M856.9 404.8L866.7 407.8L866.7 496.8L856.9 493.8Z" fill="#fff" />
<path d="M1016.7 407.8L1026.5 404.8L1026.5 493.8L1016.7 496.8Z" fill="#fff" />
<path d="M1014.5 406.6L1016.7 407.8L1016.7 496.8L1014.5 495.6Z" fill="#fff" />
<path d="M866.7 407.8L868.9 406.6L868.9 495.6L866.7 496.8Z" fill="#fff" />
<path d="M847.4 411.5L857.8 413.8L857.8 502.8L847.4 500.5Z" fill="#fff" />
<path d="M1025.6 413.8L1036.0 411.5L1036.0 500.5L1025.6 502.8Z" fill="#fff" />
<path d="M844.3 414.1L847.4 411.5L847.4 500.5L844.3 503.1Z" fill="#fff" />
<path d="M1036.0 411.5L1039.1 414.1L1039.1 503.1L1036.0 500.5Z" fill="#fff" />
<path d="M857.8 413.8L859.8 412.3L859.8 501.3L857.8 502.8Z" fill="#fff" />
<path d="M1023.6 412.3L1025.6 413.8L1025.6 502.8L1023.6 501.3Z" fill="#fff" />
<path d="M1031.4 418.7L1033.0 420.3L1033.0 509.3L1031.4 507.7Z" fill="#fff" />
<path d="M850.4 420.3L852.0 418.7L852.0 507.7L850.4 509.3Z" fill="#fff" />
<path d="M839.6 418.8L850.4 420.3L850.4 509.3L839.6 507.8Z" fill="#fff" />
<path d="M1033.0 420.3L1043.8 418.8L1043.8 507.8L1033.0 509.3Z" fill="#fff" />
<path d="M837.1 421.7L839.6 418.8L839.6 507.8L837.1 510.7Z" fill="#fff" />
<path d="M1043.8 418.8L1046.3 421.7L1046.3 510.7L1043.8 507.8Z" fill="#fff" />
<path d="M1037.6 425.7L1038.8 427.3L1038.8 516.3L1037.6 514.7Z" fill="#fff" />
<path d="M844.6 427.3L845.8 425.7L845.8 514.7L844.6 516.3Z" fill="#fff" />
<path d="M1038.8 427.3L1050.0 426.7L1050.0 515.7L1038.8 516.3Z" fill="#fff" />
<path d="M833.4 426.7L844.6 427.3L844.6 516.3L833.4 515.7Z" fill="#fff" />
<path d="M831.7 429.7L833.4 426.7L833.4 515.7L831.7 518.7Z" fill="#fff" />
<path d="M1050.0 426.7L1051.7 429.7L1051.7 518.7L1050.0 515.7Z" fill="#fff" />
<path d="M840.4 434.8L841.2 433.0L841.2 522.0L840.4 523.8Z" fill="#fff" />
<path d="M1042.2 433.0L1043.0 434.8L1043.0 523.8L1042.2 522.0Z" fill="#fff" />
<path d="M829.2 434.9L840.4 434.8L840.4 523.8L829.2 523.9Z" fill="#fff" />
<path d="M1043.0 434.8L1054.2 434.9L1054.2 523.9L1043.0 523.8Z" fill="#fff" />
<path d="M828.1 438.0L829.2 434.9L829.2 523.9L828.1 527.0Z" fill="#fff" />
<path d="M1054.2 434.9L1055.3 438.0L1055.3 527.0L1054.2 523.9Z" fill="#fff" />
<path d="M1045.1 440.6L1045.5 442.4L1045.5 531.4L1045.1 529.6Z" fill="#fff" />
<path d="M837.9 442.4L838.3 440.6L838.3 529.6L837.9 531.4Z" fill="#fff" />
<path d="M826.9 443.4L837.9 442.4L837.9 531.4L826.9 532.4Z" fill="#fff" />
<path d="M1045.5 442.4L1056.5 443.4L1056.5 532.4L1045.5 531.4Z" fill="#fff" />
<path d="M826.5 446.6L826.9 443.4L826.9 532.4L826.5 535.6Z" fill="#fff" />
<path d="M1056.5 443.4L1056.9 446.6L1056.9 535.6L1056.5 532.4Z" fill="#fff" />
<path d="M1046.2 450.2L1056.9 452.0L1056.9 541.0L1046.2 539.2Z" fill="#fff" />
<path d="M826.5 452.0L837.2 450.2L837.2 539.2L826.5 541.0Z" fill="#fff" />
<path d="M1045.1 458.0L1055.3 460.6L1055.3 549.6L1045.1 547.0Z" fill="#fff" />
<path d="M828.1 460.6L838.3 458.0L838.3 547.0L828.1 549.6Z" fill="#fff" />
<path d="M1042.2 465.6L1051.7 468.9L1051.7 557.9L1042.2 554.6Z" fill="#fff" />
<path d="M831.7 468.9L841.2 465.6L841.2 554.6L831.7 557.9Z" fill="#fff" />
<path d="M1037.6 472.9L1046.3 476.9L1046.3 565.9L1037.6 561.9Z" fill="#fff" />
<path d="M837.1 476.9L845.8 472.9L845.8 561.9L837.1 565.9Z" fill="#fff" />
<path d="M1031.4 479.9L1039.1 484.5L1039.1 573.5L1031.4 568.9Z" fill="#fff" />
<path d="M844.3 484.5L852.0 479.9L852.0 568.9L844.3 573.5Z" fill="#fff" />
<path d="M1023.6 486.3L1030.2 491.4L1030.2 580.4L1023.6 575.3Z" fill="#fff" />
<path d="M853.2 491.4L859.8 486.3L859.8 575.3L853.2 580.4Z" fill="#fff" />
<path d="M1014.5 492.0L1019.8 497.6L1019.8 586.6L1014.5 581.0Z" fill="#fff" />
<path d="M863.6 497.6L868.9 492.0L868.9 581.0L863.6 586.6Z" fill="#fff" />
<path d="M1004.1 497.1L1008.1 503.0L1008.1 592.0L1004.1 586.1Z" fill="#fff" />
<path d="M875.3 503.0L879.3 497.1L879.3 586.1L875.3 592.0Z" fill="#fff" />
<path d="M992.6 501.3L995.2 507.5L995.2 596.5L992.6 590.3Z" fill="#fff" />
<path d="M888.2 507.5L890.8 501.3L890.8 590.3L888.2 596.5Z" fill="#fff" />
<path d="M980.2 504.7L981.4 511.0L981.4 600.0L980.2 593.7Z" fill="#fff" />
<path d="M902.0 511.0L903.2 504.7L903.2 593.7L902.0 600.0Z" fill="#fff" />
</g>
<path d="M1056.9 452.0L1056.5 455.2L1045.5 456.2L1045.1 458.0L1055.3 460.6L1054.2 463.7L1043.0 463.8L1042.2 465.6L1051.7 468.9L1050.0 471.9L1038.8 471.3L1037.6 472.9L1046.3 476.9L1043.8 479.8L1033.0 478.3L1031.4 479.9L1039.1 484.5L1036.0 487.1L1025.6 484.8L1023.6 486.3L1030.2 491.4L1026.5 493.8L1016.7 490.8L1014.5 492.0L1019.8 497.6L1015.6 499.7L1006.6 496.0L1004.1 497.1L1008.1 503.0L1003.4 504.8L995.3 500.4L992.6 501.3L995.2 507.5L990.2 508.9L983.1 504.0L980.2 504.7L981.4 511.0L976.1 512.0L970.3 506.6L967.2 507.1L966.9 513.4L961.4 514.0L956.9 508.2L953.8 508.5L952.0 514.8L946.5 515.0L943.3 508.9L940.1 508.9L936.9 515.0L931.4 514.8L929.6 508.5L926.5 508.2L922.0 514.0L916.5 513.4L916.2 507.1L913.1 506.6L907.3 512.0L902.0 511.0L903.2 504.7L900.3 504.0L893.2 508.9L888.2 507.5L890.8 501.3L888.1 500.4L880.0 504.8L875.3 503.0L879.3 497.1L876.8 496.0L867.8 499.7L863.6 497.6L868.9 492.0L866.7 490.8L856.9 493.8L853.2 491.4L859.8 486.3L857.8 484.8L847.4 487.1L844.3 484.5L852.0 479.9L850.4 478.3L839.6 479.8L837.1 476.9L845.8 472.9L844.6 471.3L833.4 471.9L831.7 468.9L841.2 465.6L840.4 463.8L829.2 463.7L828.1 460.6L838.3 458.0L837.9 456.2L826.9 455.2L826.5 452.0L837.2 450.2L837.2 448.4L826.5 446.6L826.9 443.4L837.9 442.4L838.3 440.6L828.1 438.0L829.2 434.9L840.4 434.8L841.2 433.0L831.7 429.7L833.4 426.7L844.6 427.3L845.8 425.7L837.1 421.7L839.6 418.8L850.4 420.3L852.0 418.7L844.3 414.1L847.4 411.5L857.8 413.8L859.8 412.3L853.2 407.2L856.9 404.8L866.7 407.8L868.9 406.6L863.6 401.0L867.8 398.9L876.8 402.6L879.3 401.5L875.3 395.6L880.0 393.8L888.1 398.2L890.8 397.3L888.2 391.1L893.2 389.7L900.3 394.6L903.2 393.9L902.0 387.6L907.3 386.6L913.1 392.0L916.2 391.5L916.5 385.2L922.0 384.6L926.5 390.4L929.6 390.1L931.4 383.8L936.9 383.6L940.1 389.7L943.3 389.7L946.5 383.6L952.0 383.8L953.8 390.1L956.9 390.4L961.4 384.6L966.9 385.2L967.2 391.5L970.3 392.0L976.1 386.6L981.4 387.6L980.2 393.9L983.1 394.6L990.2 389.7L995.2 391.1L992.6 397.3L995.3 398.2L1003.4 393.8L1008.1 395.6L1004.1 401.5L1006.6 402.6L1015.6 398.9L1019.8 401.0L1014.5 406.6L1016.7 407.8L1026.5 404.8L1030.2 407.2L1023.6 412.3L1025.6 413.8L1036.0 411.5L1039.1 414.1L1031.4 418.7L1033.0 420.3L1043.8 418.8L1046.3 421.7L1037.6 425.7L1038.8 427.3L1050.0 426.7L1051.7 429.7L1042.2 433.0L1043.0 434.8L1054.2 434.9L1055.3 438.0L1045.1 440.6L1045.5 442.4L1056.5 443.4L1056.9 446.6L1046.2 448.4L1046.2 450.2Z" />
</g>
<path d="M941.5 371.0L941.5 449.0" />
<path d="M1088.2 334.9L1088.2 446.5A7.3 4.1 0 0 0 1102.8 446.5L1102.8 334.9Z" fill="#fff" />
<path d="M1102.8 407.0A7.3 4.1 0 0 1 1088.2 407.0" />
<path d="M1102.8 410.1A7.3 4.1 0 0 1 1088.2 410.1" />
<path d="M1102.8 413.1A7.3 4.1 0 0 1 1088.2 413.1" />
<path d="M1102.8 416.2A7.3 4.1 0 0 1 1088.2 416.2" />
<path d="M1102.8 419.2A7.3 4.1 0 0 1 1088.2 419.2" />
<path d="M1102.8 422.3A7.3 4.1 0 0 1 1088.2 422.3" />
<path d="M1102.8 425.3A7.3 4.1 0 0 1 1088.2 425.3" />
<path d="M1102.8 428.4A7.3 4.1 0 0 1 1088.2 428.4" />
<path d="M1102.8 431.4A7.3 4.1 0 0 1 1088.2 431.4" />
<path d="M1102.8 434.5A7.3 4.1 0 0 1 1088.2 434.5" />
<path d="M1102.8 437.5A7.3 4.1 0 0 1 1088.2 437.5" />
<path d="M1102.8 440.6A7.3 4.1 0 0 1 1088.2 440.6" />
<path d="M1102.8 443.6A7.3 4.1 0 0 1 1088.2 443.6" />
<path d="M1085.0 322.4L1085.0 334.9A10.5 5.9 0 0 0 1106.0 334.9L1106.0 322.4A10.5 5.9 0 0 0 1085.0 322.4Z" fill="#fff" />
<ellipse cx="1095.5" cy="322.4" rx="10.5" ry="5.9" fill="#fff" />
<ellipse cx="1095.5" cy="322.4" rx="6.9" ry="3.9" />
<path d="M1100.2 322.4L1097.9 324.7L1093.1 324.7L1090.8 322.4L1093.1 320.1L1097.9 320.1Z" />
<path d="M1094.5 326.8L1094.5 339.6" />
<path d="M1095.5 453.0L1095.5 538.0" />
<path d="M989.1 669.2L989.1 703.8A8.5 4.8 0 0 0 1006.1 703.8L1006.1 669.2A8.5 4.8 0 0 0 989.1 669.2Z" fill="#fff" />
<ellipse cx="997.6" cy="669.2" rx="8.5" ry="4.8" fill="#fff" />
<ellipse cx="997.6" cy="669.4" rx="6.4" ry="3.5" />
<path d="M997.5 710.0L997.5 752.0" />
<path d="M1178.5 774.0L1178.5 813.0" />
<ellipse cx="1181.5" cy="818.5" rx="8.6" ry="5.4" fill="#fff" transform="rotate(240.9 1181.5 818.5)"/>
<path d="M1177.3 811.0L1167.7 816.3L1176.1 831.4L1185.7 826.0Z" fill="#fff" stroke="none"/>
<path d="M1177.3 811.0L1167.7 816.3" />
<path d="M1185.7 826.0L1176.1 831.4" />
<ellipse cx="1179.9" cy="819.4" rx="8.6" ry="5.4" transform="rotate(240.9 1179.9 819.4)"/>
<ellipse cx="1178.3" cy="820.3" rx="8.6" ry="5.4" transform="rotate(240.9 1178.3 820.3)"/>
<ellipse cx="1176.7" cy="821.2" rx="8.6" ry="5.4" transform="rotate(240.9 1176.7 821.2)"/>
<ellipse cx="1175.1" cy="822.1" rx="8.6" ry="5.4" transform="rotate(240.9 1175.1 822.1)"/>
<ellipse cx="1173.5" cy="823.0" rx="8.6" ry="5.4" transform="rotate(240.9 1173.5 823.0)"/>
<ellipse cx="1171.9" cy="823.8" rx="8.6" ry="5.4" fill="#fff" transform="rotate(240.9 1171.9 823.8)"/>
<path d="M1164.4 829.3L1101.6 864.3" />
<path d="M1096.0 867.5L1035.0 901.5" stroke-dasharray="6 6"/>
<path d="M231 1290H512V1744H231ZM236 1294V1740H508V1294Z" fill="#ff1c10" fill-rule="evenodd" stroke="none"/>
<g class="tx">
<text class="t" x="15.40" y="47.5" font-size="31" textLength="141.50" lengthAdjust="spacingAndGlyphs" xml:space="preserve">R210W-9</text>
<text class="t" x="286.20" y="56.6" font-size="40" textLength="870.00" lengthAdjust="spacingAndGlyphs" xml:space="preserve">SWING REDUCTION GEAR(TYPE 2, TYPE 3)</text>
<text class="t" x="15.00" y="2022.0" font-size="32" textLength="74.10" lengthAdjust="spacingAndGlyphs" xml:space="preserve">4116</text>
<text class="t" x="1119.00" y="2010.3" font-size="31.5" textLength="314.20" lengthAdjust="spacingAndGlyphs" xml:space="preserve">2013. 5.31  REV.13E</text>
<text class="t" x="1100.70" y="1648.7" font-size="24.5" textLength="278.00" lengthAdjust="spacingAndGlyphs" xml:space="preserve">TYPE 2 SWING MOTOR</text>
<text class="t" x="136.50" y="208.0" font-size="19.5" textLength="144.50" lengthAdjust="spacingAndGlyphs" xml:space="preserve">SWING MOTOR</text>
<text class="t" x="180.00" y="225.5" font-size="19.5" textLength="57.00" lengthAdjust="spacingAndGlyphs" xml:space="preserve">(4115)</text>
<text class="t" x="735.80" y="210.5" font-size="21" textLength="110.50" lengthAdjust="spacingAndGlyphs" xml:space="preserve">Description</text>
<text class="t" x="914.20" y="210.5" font-size="21" textLength="73.90" lengthAdjust="spacingAndGlyphs" xml:space="preserve">Part no</text>
<text class="t" x="1144.30" y="210.4" font-size="21" textLength="133.90" lengthAdjust="spacingAndGlyphs" xml:space="preserve">Included item</text>
<text class="t" x="707.80" y="243.4" font-size="21" textLength="163.80" lengthAdjust="spacingAndGlyphs" xml:space="preserve">Carrier assy kit 1</text>
<text class="t" x="707.80" y="275.6" font-size="21" textLength="165.40" lengthAdjust="spacingAndGlyphs" xml:space="preserve">Carrier assy kit 2</text>
<text class="t" x="898.00" y="243.4" font-size="21" textLength="122.60" lengthAdjust="spacingAndGlyphs" xml:space="preserve">39Q6-12180</text>
<text class="t" x="898.00" y="275.6" font-size="21" textLength="122.60" lengthAdjust="spacingAndGlyphs" xml:space="preserve">39Q6-12250</text>
<text class="t" x="1058.20" y="243.7" font-size="21" textLength="284.00" lengthAdjust="spacingAndGlyphs" xml:space="preserve">10, 11, 12, 13, 14, 15, 16, 25</text>
<text class="t" x="1058.20" y="275.9" font-size="21" textLength="321.60" lengthAdjust="spacingAndGlyphs" xml:space="preserve">17, 18, 19, 20, 21, 22, 23, 24, 25</text>
<text class="t" x="94.60" y="1799.3" font-size="20" textLength="48.00" lengthAdjust="spacingAndGlyphs" xml:space="preserve">Type</text>
<text class="t" x="292.00" y="1799.3" font-size="20" textLength="122.00" lengthAdjust="spacingAndGlyphs" xml:space="preserve">Travel motor</text>
<text class="t" x="785.50" y="1799.6" font-size="20" textLength="76.50" lengthAdjust="spacingAndGlyphs" xml:space="preserve">Remark</text>
<text class="t" x="82.00" y="1846.0" font-size="20" textLength="69.00" lengthAdjust="spacingAndGlyphs" xml:space="preserve">TYPE 1</text>
<text class="t" x="82.00" y="1903.2" font-size="20" textLength="73.40" lengthAdjust="spacingAndGlyphs" xml:space="preserve">TYPE 2</text>
<text class="t" x="82.00" y="1944.6" font-size="20" textLength="73.40" lengthAdjust="spacingAndGlyphs" xml:space="preserve">TYPE 3</text>
<text class="t" x="211.00" y="1834.0" font-size="20" textLength="352.00" lengthAdjust="spacingAndGlyphs" xml:space="preserve">31Q6-10180(-#0338, SEE 4100/10)</text>
<text class="t" x="211.00" y="1857.2" font-size="20" textLength="352.00" lengthAdjust="spacingAndGlyphs" xml:space="preserve">31Q6-10181(#0339-, SEE 4100/10)</text>
<text class="t" x="211.00" y="1890.8" font-size="20" textLength="352.00" lengthAdjust="spacingAndGlyphs" xml:space="preserve">38Q6-10150(-#0353, SEE 4115/16)</text>
<text class="t" x="211.00" y="1914.0" font-size="20" textLength="352.00" lengthAdjust="spacingAndGlyphs" xml:space="preserve">38Q6-10170(#0354-, SEE 4115/16)</text>
<text class="t" x="211.00" y="1946.4" font-size="20" textLength="352.00" lengthAdjust="spacingAndGlyphs" xml:space="preserve">39Q6-10170(#0354-, SEE 4115/16)</text>
<text class="t" x="672.30" y="1876.0" font-size="20" textLength="316.00" lengthAdjust="spacingAndGlyphs" xml:space="preserve">When ordering, check part no of</text>
<text class="t" x="667.80" y="1898.2" font-size="20" textLength="325.50" lengthAdjust="spacingAndGlyphs" xml:space="preserve">swing motor assy on name plate.</text>
<text class="t" x="608.10" y="168.0" font-size="25" textLength="65.80" lengthAdjust="spacingAndGlyphs" xml:space="preserve">31,32</text>
<text class="t" x="608.10" y="229.5" font-size="25" textLength="16.50" lengthAdjust="spacingAndGlyphs" xml:space="preserve">9</text>
<text class="t" x="597.20" y="434.6" font-size="25" textLength="28.30" lengthAdjust="spacingAndGlyphs" xml:space="preserve">22</text>
<text class="t" x="597.20" y="482.3" font-size="25" textLength="28.30" lengthAdjust="spacingAndGlyphs" xml:space="preserve">20</text>
<text class="t" x="599.10" y="525.2" font-size="25" textLength="26.40" lengthAdjust="spacingAndGlyphs" xml:space="preserve">19</text>
<text class="t" x="616.70" y="567.4" font-size="25" textLength="26.20" lengthAdjust="spacingAndGlyphs" xml:space="preserve">18</text>
<text class="t" x="597.20" y="616.4" font-size="25" textLength="26.80" lengthAdjust="spacingAndGlyphs" xml:space="preserve">21</text>
<text class="t" x="537.50" y="677.0" font-size="25" textLength="28.50" lengthAdjust="spacingAndGlyphs" xml:space="preserve">23</text>
<text class="t" x="300.00" y="477.7" font-size="25" textLength="26.80" lengthAdjust="spacingAndGlyphs" xml:space="preserve">24</text>
<text class="t" x="299.20" y="540.2" font-size="25" textLength="28.60" lengthAdjust="spacingAndGlyphs" xml:space="preserve">25</text>
<text class="t" x="258.20" y="641.5" font-size="25" textLength="26.50" lengthAdjust="spacingAndGlyphs" xml:space="preserve">17</text>
<text class="t" x="608.80" y="730.6" font-size="25" textLength="26.70" lengthAdjust="spacingAndGlyphs" xml:space="preserve">14</text>
<text class="t" x="608.80" y="786.0" font-size="25" textLength="26.70" lengthAdjust="spacingAndGlyphs" xml:space="preserve">13</text>
<text class="t" x="608.80" y="826.3" font-size="25" textLength="26.70" lengthAdjust="spacingAndGlyphs" xml:space="preserve">12</text>
<text class="t" x="627.50" y="885.2" font-size="25" textLength="23.50" lengthAdjust="spacingAndGlyphs" xml:space="preserve">11</text>
<text class="t" x="604.00" y="938.2" font-size="25" textLength="25.40" lengthAdjust="spacingAndGlyphs" xml:space="preserve">21</text>
<text class="t" x="490.00" y="1068.3" font-size="25" textLength="28.00" lengthAdjust="spacingAndGlyphs" xml:space="preserve">15</text>
<text class="t" x="257.10" y="766.7" font-size="25" textLength="25.90" lengthAdjust="spacingAndGlyphs" xml:space="preserve">16</text>
<text class="t" x="254.40" y="844.5" font-size="25" textLength="28.60" lengthAdjust="spacingAndGlyphs" xml:space="preserve">25</text>
<text class="t" x="239.50" y="952.4" font-size="25" textLength="26.70" lengthAdjust="spacingAndGlyphs" xml:space="preserve">10</text>
<text class="t" x="253.40" y="1053.2" font-size="25" textLength="13.50" lengthAdjust="spacingAndGlyphs" xml:space="preserve">7</text>
<text class="t" x="253.00" y="1114.9" font-size="25" textLength="14.10" lengthAdjust="spacingAndGlyphs" xml:space="preserve">6</text>
<text class="t" x="253.00" y="1179.4" font-size="25" textLength="14.10" lengthAdjust="spacingAndGlyphs" xml:space="preserve">5</text>
<text class="t" x="252.00" y="1244.3" font-size="25" textLength="14.50" lengthAdjust="spacingAndGlyphs" xml:space="preserve">4</text>
<text class="t" x="254.90" y="1558.0" font-size="25" textLength="14.10" lengthAdjust="spacingAndGlyphs" xml:space="preserve">2</text>
<text class="t" x="1156.00" y="373.4" font-size="25" textLength="27.90" lengthAdjust="spacingAndGlyphs" xml:space="preserve">30</text>
<text class="t" x="1156.40" y="561.9" font-size="25" textLength="11.70" lengthAdjust="spacingAndGlyphs" xml:space="preserve">1</text>
<text class="t" x="1090.70" y="700.4" font-size="25" textLength="28.30" lengthAdjust="spacingAndGlyphs" xml:space="preserve">29</text>
<text class="t" x="1164.90" y="772.4" font-size="25" textLength="28.30" lengthAdjust="spacingAndGlyphs" xml:space="preserve">33</text>
<text class="t" x="1210.70" y="1018.6" font-size="25" textLength="13.50" lengthAdjust="spacingAndGlyphs" xml:space="preserve">8</text>
<text class="t" x="1100.00" y="1267.4" font-size="25" textLength="14.00" lengthAdjust="spacingAndGlyphs" xml:space="preserve">3</text>
<text class="t" x="1101.00" y="1369.9" font-size="25" textLength="28.90" lengthAdjust="spacingAndGlyphs" xml:space="preserve">27</text>
<text class="t" x="1099.20" y="1494.2" font-size="25" textLength="27.20" lengthAdjust="spacingAndGlyphs" xml:space="preserve">26</text>
<text class="t" x="1135.00" y="1574.5" font-size="25" textLength="28.10" lengthAdjust="spacingAndGlyphs" xml:space="preserve">28</text>
</g>
</svg>
</body></html>
